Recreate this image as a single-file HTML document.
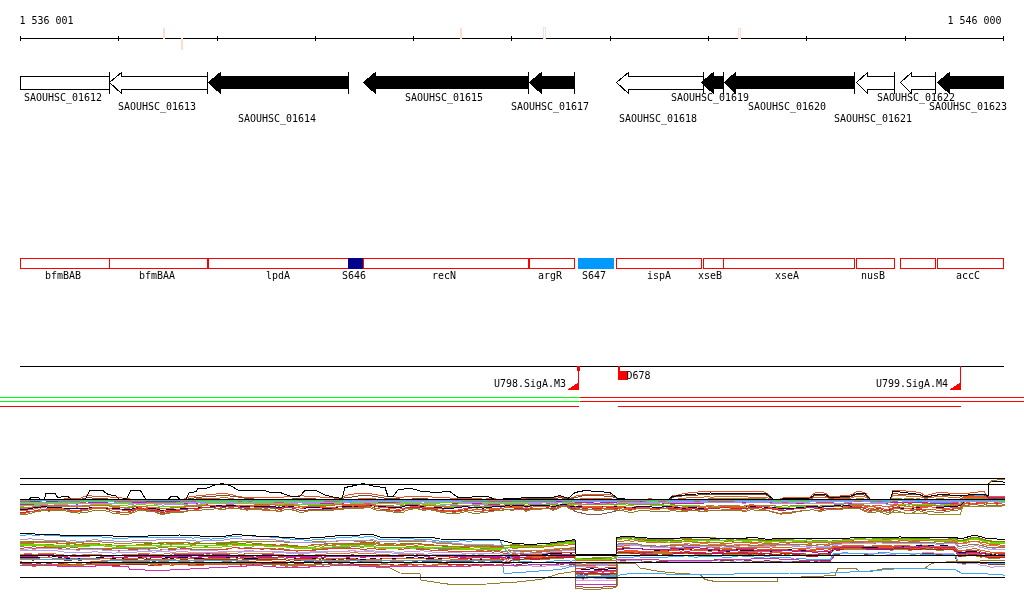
<!DOCTYPE html>
<html lang="en"><head><meta charset="utf-8"><title>Genome browser 1 536 001 - 1 546 000</title>
<style>html,body{margin:0;padding:0;background:#fff;overflow:hidden}svg{display:block}text{font-family:"DejaVu Sans Mono","Liberation Mono",monospace;font-size:11px;fill:#000}</style>
</head><body>
<svg width="1024" height="611" viewBox="0 0 1024 611" shape-rendering="crispEdges">
<rect x="0" y="0" width="1024" height="611" fill="#fff"/>
<g id="axis">
<rect x="20" y="38" width="984" height="1" fill="#000"/>
<rect x="20" y="36" width="1" height="5" fill="#000"/>
<rect x="118" y="36" width="1" height="5" fill="#000"/>
<rect x="217" y="36" width="1" height="5" fill="#000"/>
<rect x="315" y="36" width="1" height="5" fill="#000"/>
<rect x="413" y="36" width="1" height="5" fill="#000"/>
<rect x="511" y="36" width="1" height="5" fill="#000"/>
<rect x="610" y="36" width="1" height="5" fill="#000"/>
<rect x="708" y="36" width="1" height="5" fill="#000"/>
<rect x="806" y="36" width="1" height="5" fill="#000"/>
<rect x="905" y="36" width="1" height="5" fill="#000"/>
<rect x="1003" y="36" width="1" height="5" fill="#000"/>
<rect x="163" y="28" width="2" height="11" fill="#FFDCCC"/>
<rect x="181" y="38" width="2" height="12" fill="#FFDCCC"/>
<rect x="460" y="28" width="2" height="11" fill="#FFDCCC"/>
<rect x="543" y="27" width="3" height="12" fill="#fff"/>
<rect x="543.5" y="27.5" width="2" height="11" fill="none" stroke="#FFDCCC" stroke-width="1"/>
<rect x="738" y="28" width="3" height="11" fill="#fff"/>
<rect x="738.5" y="28.5" width="2" height="10" fill="none" stroke="#FFDCCC" stroke-width="1"/>
<text x="19.5" y="24" textLength="54" lengthAdjust="spacingAndGlyphs">1 536 001</text>
<text x="947.5" y="24" textLength="54" lengthAdjust="spacingAndGlyphs">1 546 000</text>
</g>
<g id="genes">
<rect x="20.5" y="76.5" width="89" height="13" fill="#fff" stroke="#000" stroke-width="1"/>
<rect x="109" y="72" width="1" height="22" fill="#000"/>
<polygon points="109.5,82.5 121.5,72.5 121.5,76.5 207.5,76.5 207.5,89.5 121.5,89.5 121.5,93.5" fill="#fff" stroke="#000" stroke-width="1"/>
<rect x="207" y="72" width="1" height="22" fill="#000"/>
<polygon points="208.5,82.5 220.5,72.5 220.5,76.5 348.5,76.5 348.5,88.5 220.5,88.5 220.5,93.5" fill="#000" stroke="#000" stroke-width="1"/>
<rect x="348" y="72" width="1" height="22" fill="#000"/>
<polygon points="363.5,82.5 375.5,72.5 375.5,76.5 528.5,76.5 528.5,88.5 375.5,88.5 375.5,93.5" fill="#000" stroke="#000" stroke-width="1"/>
<rect x="528" y="72" width="1" height="22" fill="#000"/>
<polygon points="529.5,82.5 541.5,72.5 541.5,76.5 574.5,76.5 574.5,88.5 541.5,88.5 541.5,93.5" fill="#000" stroke="#000" stroke-width="1"/>
<rect x="574" y="72" width="1" height="22" fill="#000"/>
<polygon points="616.5,82.5 628.5,72.5 628.5,76.5 703.5,76.5 703.5,89.5 628.5,89.5 628.5,93.5" fill="#fff" stroke="#000" stroke-width="1"/>
<rect x="703" y="72" width="1" height="22" fill="#000"/>
<polygon points="701.5,82.5 713.5,72.5 713.5,76.5 723.5,76.5 723.5,88.5 713.5,88.5 713.5,93.5" fill="#000" stroke="#000" stroke-width="1"/>
<rect x="723" y="72" width="1" height="22" fill="#000"/>
<polygon points="724.5,82.5 735.5,72.5 735.5,76.5 854.5,76.5 854.5,88.5 735.5,88.5 735.5,93.5" fill="#000" stroke="#000" stroke-width="1"/>
<rect x="854" y="72" width="1" height="22" fill="#000"/>
<polygon points="856.5,82.5 867.5,72.5 867.5,76.5 894.5,76.5 894.5,89.5 867.5,89.5 867.5,93.5" fill="#fff" stroke="#000" stroke-width="1"/>
<rect x="894" y="72" width="1" height="22" fill="#000"/>
<polygon points="900.5,82.5 911.5,72.5 911.5,76.5 935.5,76.5 935.5,89.5 911.5,89.5 911.5,93.5" fill="#fff" stroke="#000" stroke-width="1"/>
<rect x="935" y="72" width="1" height="22" fill="#000"/>
<polygon points="937.5,82.5 949.5,72.5 949.5,76.5 1003.5,76.5 1003.5,88.5 949.5,88.5 949.5,93.5" fill="#000" stroke="#000" stroke-width="1"/>
<text x="24" y="101" textLength="78" lengthAdjust="spacingAndGlyphs">SAOUHSC_01612</text>
<text x="118" y="110" textLength="78" lengthAdjust="spacingAndGlyphs">SAOUHSC_01613</text>
<text x="238" y="122" textLength="78" lengthAdjust="spacingAndGlyphs">SAOUHSC_01614</text>
<text x="405" y="101" textLength="78" lengthAdjust="spacingAndGlyphs">SAOUHSC_01615</text>
<text x="511" y="110" textLength="78" lengthAdjust="spacingAndGlyphs">SAOUHSC_01617</text>
<text x="619" y="122" textLength="78" lengthAdjust="spacingAndGlyphs">SAOUHSC_01618</text>
<text x="671" y="101" textLength="78" lengthAdjust="spacingAndGlyphs">SAOUHSC_01619</text>
<text x="748" y="110" textLength="78" lengthAdjust="spacingAndGlyphs">SAOUHSC_01620</text>
<text x="834" y="122" textLength="78" lengthAdjust="spacingAndGlyphs">SAOUHSC_01621</text>
<text x="877" y="101" textLength="78" lengthAdjust="spacingAndGlyphs">SAOUHSC_01622</text>
<text x="929" y="110" textLength="78" lengthAdjust="spacingAndGlyphs">SAOUHSC_01623</text>
</g>
<g id="segments">
<rect x="20.5" y="258.5" width="89" height="10" fill="none" stroke="#f00" stroke-width="1"/>
<rect x="109.5" y="258.5" width="98" height="10" fill="none" stroke="#f00" stroke-width="1"/>
<rect x="208.5" y="258.5" width="140" height="10" fill="none" stroke="#f00" stroke-width="1"/>
<rect x="363.5" y="258.5" width="165" height="10" fill="none" stroke="#f00" stroke-width="1"/>
<rect x="529.5" y="258.5" width="45" height="10" fill="none" stroke="#f00" stroke-width="1"/>
<rect x="616.5" y="258.5" width="85" height="10" fill="none" stroke="#f00" stroke-width="1"/>
<rect x="703.5" y="258.5" width="20" height="10" fill="none" stroke="#f00" stroke-width="1"/>
<rect x="723.5" y="258.5" width="131" height="10" fill="none" stroke="#f00" stroke-width="1"/>
<rect x="856.5" y="258.5" width="38" height="10" fill="none" stroke="#f00" stroke-width="1"/>
<rect x="900.5" y="258.5" width="35" height="10" fill="none" stroke="#f00" stroke-width="1"/>
<rect x="937.5" y="258.5" width="66" height="10" fill="none" stroke="#f00" stroke-width="1"/>
<rect x="348" y="258" width="15" height="11" fill="#00008B"/>
<rect x="578" y="258" width="36" height="11" fill="#0099FF"/>
<text x="45" y="279" textLength="36" lengthAdjust="spacingAndGlyphs">bfmBAB</text>
<text x="139" y="279" textLength="36" lengthAdjust="spacingAndGlyphs">bfmBAA</text>
<text x="266" y="279" textLength="24" lengthAdjust="spacingAndGlyphs">lpdA</text>
<text x="342" y="279" textLength="24" lengthAdjust="spacingAndGlyphs">S646</text>
<text x="432" y="279" textLength="24" lengthAdjust="spacingAndGlyphs">recN</text>
<text x="538" y="279" textLength="24" lengthAdjust="spacingAndGlyphs">argR</text>
<text x="582" y="279" textLength="24" lengthAdjust="spacingAndGlyphs">S647</text>
<text x="647" y="279" textLength="24" lengthAdjust="spacingAndGlyphs">ispA</text>
<text x="698" y="279" textLength="24" lengthAdjust="spacingAndGlyphs">xseB</text>
<text x="775" y="279" textLength="24" lengthAdjust="spacingAndGlyphs">xseA</text>
<text x="861" y="279" textLength="24" lengthAdjust="spacingAndGlyphs">nusB</text>
<text x="956" y="279" textLength="24" lengthAdjust="spacingAndGlyphs">accC</text>
</g>
<g id="promoters">
<rect x="20" y="366" width="984" height="1" fill="#000"/>
<rect x="577" y="366" width="3" height="5" fill="#f00"/>
<rect x="578" y="366" width="1" height="24" fill="#f00"/>
<polygon points="567,390 579,390 579,382" fill="#f00"/>
<rect x="618" y="366" width="2" height="5" fill="#f00"/>
<rect x="618" y="371" width="10" height="9" fill="#f00"/>
<rect x="960" y="366" width="1" height="24" fill="#f00"/>
<polygon points="949,390 961,390 961,382" fill="#f00"/>
<text x="494" y="387" textLength="72" lengthAdjust="spacingAndGlyphs">U798.SigA.M3</text>
<text x="626.5" y="379" textLength="24" lengthAdjust="spacingAndGlyphs">D678</text>
<text x="876" y="387" textLength="72" lengthAdjust="spacingAndGlyphs">U799.SigA.M4</text>
<rect x="0" y="397" width="580" height="1" fill="#0f0"/>
<rect x="580" y="397" width="444" height="1" fill="#f00"/>
<rect x="0" y="401" width="580" height="1" fill="#0f0"/>
<rect x="580" y="401" width="444" height="1" fill="#f00"/>
<rect x="0" y="406" width="579" height="1" fill="#f00"/>
<rect x="618" y="406" width="343" height="1" fill="#f00"/>
</g>
<g id="expression">
<polyline points="20,561.5 22,562 26,562 28,562 30,562.5 32,562.5 34,562.5 36,562.5 38,562.5 40,562 44,562.5 46,562.5 48,562.5 52,562.5 54,562.5 56,562.5 58,563 62,563.5 64,563 68,563 72,562.5 76,563 78,563 80,563.5 84,562.5 88,562 90,562 94,561.5 96,561.5 98,561.5 102,561.5 106,561.5 108,562 110,562 114,562 116,562.5 120,562.5 122,562 124,561.5 126,562 130,561.5 132,562 136,561.5 138,561.5 142,561.5 144,561.5 148,561.5 150,562 152,562.5 154,562.5 156,562.5 158,562 162,561.5 166,561.5 168,561.5 170,562.5 172,562.5 176,562.5 178,562 182,561.5 184,561.5 186,561.5 190,562 192,562 194,562 196,561.5 200,561.5 202,561.5 204,561 206,560.5 208,560.5 210,560.5 212,560.5 214,560.5 218,560.5 220,560.5 222,561 226,561.5 228,561 232,561 234,560.5 236,561 240,561.5 242,561.5 244,561.5 246,561 250,561 252,561 256,561 260,560.5 262,560.5 266,560.5 268,560.5 272,561 274,561 276,561 280,561 284,561.5 286,562 288,562.5 292,562.5 296,562.5 300,562 302,562.5 304,562.5 308,563 312,562.5 314,562.5 316,561.5 318,561.5 322,562 324,562 326,561.5 330,561 332,561.5 336,561.5 340,561.5 344,561 348,561.5 350,561 354,560.5 356,560.5 358,561.5 360,561.5 362,561.5 366,561.5 370,561 374,561 376,561.5 378,561.5 382,561 384,560.5 386,560.5 390,561 392,561.5 394,561.5 398,561.5 400,561.5 402,561.5 406,560.5 408,560.5 410,560.5 414,561.5 416,561.5 418,561 420,560.5 422,560.5 424,561.5 428,562 430,562.5 432,562.5 436,562 440,561 442,561 444,560.5 446,561 448,561 450,561 454,561.5 458,561.5 460,561.5 462,561.5 464,561.5 466,561.5 470,562 472,561.5 474,561 476,560.5 480,561.5 482,562 484,561.5 486,560.5 490,561 492,561 496,561 500,561.5 504,560 506,559.5 510,557.5 512,557 514,557 518,557.5 520,557 522,557 524,557 526,557 530,557 532,557 534,557.5 538,557.5 540,557.5 542,557.5 544,557 546,557 548,557 552,556.5 554,556.5 556,556 558,556 562,556 566,555.5 570,556 572,556 574,556 575,555.5 576,573.5 578,573 580,573 584,574 586,573.5 590,572.5 592,572.5 596,572.5 598,573 602,573.5 604,573.5 608,573 610,573 612,572.5 614,573 616,573 617,552 618,552 620,552 622,552 626,551.5 628,551 632,551.5 634,551 636,551.5 638,551.5 642,552 644,552.5 646,552.5 648,552.5 652,552.5 654,552.5 656,552.5 660,552.5 662,552 666,553 670,552.5 672,552.5 674,552.5 676,552.5 680,552.5 682,552.5 686,551.5 690,552.5 692,552.5 696,553 698,552.5 702,552.5 704,552.5 708,553.5 712,553.5 716,553 720,553.5 722,553.5 724,554 726,554 730,554 732,554 736,553.5 738,553 740,553 744,553 746,552.5 750,552.5 752,552.5 754,552 756,552 758,552 760,551.5 764,552 766,551.5 768,551.5 770,552 772,552 774,552.5 776,552.5 780,552.5 782,552.5 784,553 788,552.5 792,553 794,553.5 796,554 798,553.5 802,553.5 804,553.5 806,554 810,554.5 814,555 818,554.5 820,554 822,553.5 824,553.5 826,553.5 828,553.5 830,553.5 832,551 834,548 836,548.5 840,548 842,548.5 844,548 846,548 848,548 850,548.5 854,548 856,548 858,548.5 860,548.5 862,548.5 866,548.5 868,548.5 870,548 872,548 876,547.5 878,548 880,547.5 884,548.5 888,548.5 890,549 892,548.5 893,548.5 894,548.5 896,548 900,548 904,548 908,548 910,548.5 914,548.5 918,548 920,548 922,548.5 924,548.5 926,548.5 930,548.5 932,549 936,550 940,550 944,549.5 948,549.5 950,549.5 952,549.5 956,552 958,556 960,556.5 962,556.5 964,556 965,555.5 966,555 970,554.5 974,554 976,554 978,554.5 982,555.5 984,555.5 986,556 988,556.5 990,556.5 994,556.5 996,557 998,556.5 1002,556.5 1003,556.5 1005,556.5" fill="none" stroke="#E06020" stroke-width="1"/>
<polyline points="20,557.5 22,557.5 24,557.5 26,557.5 28,557.5 32,558 36,557.5 40,557 44,557 48,557 50,557 52,557 54,556.5 58,557 60,557.5 62,558 64,558 66,558 68,558.5 70,558.5 74,558 76,558.5 78,558.5 82,558.5 84,558.5 88,558.5 92,558 94,558 96,558 98,557.5 102,557.5 104,558 108,558 110,558.5 112,558.5 116,559 118,559 122,559 124,558.5 126,558 128,558.5 132,558.5 136,558.5 138,558 140,557.5 142,557.5 146,558 148,558 150,558.5 152,559.5 156,559 158,559 162,559 164,558.5 166,557.5 170,558 172,558.5 174,558 178,557.5 180,557.5 184,557.5 188,558 192,559 196,558.5 198,559 200,558.5 202,558.5 206,558 208,558 212,558 214,557.5 216,557.5 218,558 222,558.5 224,558 226,558 230,557.5 232,557 234,557 236,557.5 240,558.5 244,558.5 248,558 250,558 252,558 254,558 258,558 262,558 266,558 268,558 270,558 274,558 276,558 278,557.5 280,557.5 284,558 286,558.5 288,559 290,559 294,559 298,558.5 300,558.5 302,558.5 304,558.5 306,559.5 308,559.5 310,559.5 312,559 314,558.5 318,558 322,558.5 324,559 328,559 330,558.5 332,559 336,559 340,558.5 344,558.5 346,558.5 348,559 352,558 354,558 356,558.5 358,559 360,559.5 362,559.5 366,559.5 370,559 372,558.5 376,559 378,559.5 380,559 384,558.5 386,558 390,558 394,558.5 396,558.5 398,559 402,558 404,558 406,558 410,557.5 414,558 418,558 422,557.5 426,558.5 430,558.5 434,559 436,559 438,559 442,558.5 444,558 446,558.5 450,559 454,559.5 458,559 460,559.5 462,559.5 464,559.5 468,560 470,560 474,559.5 478,559.5 480,560 484,559.5 488,559.5 490,559.5 492,560 496,560 498,559.5 500,560 502,559.5 506,558.5 510,557 512,556.5 514,556 516,556 518,555.5 522,555.5 524,555 528,555 532,555.5 534,555 536,555 540,555 542,555 546,554.5 548,554 552,553.5 554,553.5 558,553 560,553 562,553 564,552.5 566,552.5 568,552.5 570,553 572,553 575,552.5 576,569 578,568.5 580,568.5 582,569.5 586,569.5 590,569 592,568.5 594,569 598,569 600,569 602,569 604,569 608,569 612,568.5 616,568.5 617,548.5 618,549 620,549.5 622,549 626,548 628,548 632,548.5 636,548 640,548.5 642,548.5 644,549.5 646,549.5 648,549.5 652,549.5 654,550 658,550.5 660,550.5 662,550 664,550 666,550.5 668,550.5 670,550 672,550 674,550 676,550 678,550 680,549.5 682,550 684,549.5 688,549 692,550 694,550 698,549.5 702,549.5 704,549.5 708,550.5 712,550.5 716,550.5 718,550.5 722,551 726,551.5 728,551.5 730,551 734,550.5 738,549.5 740,550 742,550 744,550 746,550 750,550.5 752,550.5 754,550.5 758,550.5 762,551 764,551 768,551 772,551 776,550.5 780,550 784,550 788,549.5 792,550 794,550 798,550.5 800,550 804,550.5 806,551 810,551.5 812,552 814,552 816,551.5 818,551.5 820,551 822,551 824,551 826,551.5 828,552 830,552 832,550.5 834,548.5 836,549 838,548.5 842,548 844,548 846,547.5 850,547.5 854,547.5 856,547.5 858,547.5 862,547 864,547 868,547.5 872,547.5 874,547.5 878,547 882,546.5 886,547 888,546.5 892,547 893,547 894,547 896,546.5 900,546 902,546 906,546 910,546 912,546 916,546 918,545.5 920,545.5 922,545.5 926,545.5 928,545 930,545 932,545 934,546 938,546.5 940,546 944,545.5 946,545.5 948,546 950,546 952,546 956,548 958,552 960,552.5 964,552.5 965,552 966,552 968,551.5 970,551 972,551.5 976,551.5 980,553 982,553.5 986,553.5 988,553.5 990,554 992,554 994,554 996,554 998,553.5 1000,553.5 1003,553 1005,553" fill="none" stroke="#000060" stroke-width="1"/>
<polyline points="20,554.5 22,554.5 24,554 28,554 30,554 32,554.5 34,554.5 36,554.5 40,554 44,554.5 46,554.5 48,554.5 50,554.5 54,555 56,555 58,555 60,555.5 64,555.5 68,556 72,555.5 74,555.5 76,555.5 78,556 82,556 84,556 88,556 90,555.5 94,555.5 96,555 100,555 104,555 106,555 108,555 112,555.5 114,555 118,555.5 120,555.5 122,555 126,554.5 128,554.5 130,554.5 132,554.5 134,554.5 136,554.5 138,554 140,554.5 142,554.5 144,554.5 148,554.5 152,556 156,556 158,555.5 162,555.5 164,555 168,555 170,555.5 174,555 178,554.5 180,554.5 182,554 184,554 186,554.5 188,554.5 192,555 194,554.5 196,554.5 198,554.5 200,554.5 204,554 206,553.5 208,553.5 212,554 214,554 216,554 218,554 220,554 222,554 226,555 228,554.5 232,553.5 236,553.5 238,554 240,554 242,554 244,554 246,553.5 248,553.5 250,553.5 252,553.5 254,553.5 258,553.5 260,553.5 262,554 266,554 268,554.5 272,554.5 276,555.5 278,555.5 280,555.5 284,556 286,556 288,556.5 292,556.5 296,557 298,556.5 300,556.5 302,556.5 304,556.5 308,557 312,556.5 316,556.5 320,555.5 324,556 326,556 328,555.5 332,556 336,555.5 338,556 340,555.5 344,555.5 346,556 348,555.5 350,555.5 352,554.5 354,555 356,555 358,555.5 362,556 366,555.5 370,555.5 374,555.5 378,556.5 382,555 386,555 388,555 392,556 394,556 398,556 400,555.5 402,555.5 406,555.5 410,554.5 412,555 414,555 416,555 420,554.5 422,554.5 424,555 428,555 430,555.5 432,555.5 436,555 438,555.5 440,555.5 442,555.5 444,555.5 446,556 448,556 450,557 452,557 454,556.5 456,556.5 458,556.5 460,557 462,557 466,557.5 470,557.5 472,557.5 476,556.5 478,556.5 482,557.5 484,557 486,556 490,556.5 492,556.5 494,556.5 496,556.5 498,556.5 500,556.5 502,557 504,557.5 506,557 508,556.5 512,556.5 514,557 516,557.5 518,557 520,557.5 524,557 526,557 530,558 532,558 534,558 538,558.5 540,559 542,558.5 544,558.5 546,558.5 550,559 552,558 554,557.5 558,557.5 562,557 564,557 566,556.5 568,556.5 572,557 575,556.5 576,574.5 580,574 584,575.5 586,575 590,574 594,573.5 598,573.5 600,574 604,574 608,573.5 612,573.5 614,573.5 616,573.5 617,552.5 618,552.5 620,553 624,552.5 626,552.5 628,552 632,552.5 634,552 636,552 640,552 644,553 648,552.5 650,552.5 652,552.5 654,553.5 658,553.5 660,553 662,553 664,553.5 666,553.5 668,553.5 672,553 676,553 678,553 680,552.5 682,552.5 684,552.5 686,551.5 688,551.5 690,552 692,552 696,552.5 698,552.5 702,552.5 706,553 710,553 712,553 714,552.5 718,552 720,552.5 722,552.5 724,553 726,553 730,554 734,553.5 736,553 740,552.5 742,552.5 744,552.5 748,553 750,553 752,553 754,553 756,553 760,553.5 764,553.5 766,553.5 768,553.5 770,554 772,554 774,554 776,554 780,554 784,553.5 786,553 788,553 792,553.5 796,553.5 798,553.5 800,553.5 804,554 806,554 808,555 812,555 816,555 818,554.5 820,554 824,554 828,554 832,552 834,549.5 836,549.5 840,548.5 842,548.5 844,548.5 846,548 848,549 850,549 852,549 854,549 858,548 862,548.5 864,548.5 868,549.5 872,549 874,549 876,548.5 880,548 882,548 886,548 888,549 890,549 893,549 894,549 896,548.5 900,548 902,548 904,547.5 906,548 908,548 912,548.5 914,548.5 918,548 920,547.5 922,547.5 924,547.5 926,547.5 930,547.5 932,547.5 934,548 936,548.5 938,549 942,548 946,548 950,547.5 952,548 954,548 958,554.5 960,555 964,554.5 965,554 966,554 968,553.5 970,553.5 972,553 976,553 978,553.5 980,555 982,555 984,555 986,555.5 988,555.5 990,556 992,556 996,556 998,556 1002,556 1003,556 1005,556" fill="none" stroke="#C71585" stroke-width="1"/>
<polyline points="20,554 24,554 28,553.5 32,554 36,554 38,554 40,553 42,553 46,553.5 48,553.5 52,553.5 56,554 58,554.5 60,554.5 62,554.5 64,555 68,555.5 72,555 74,554.5 76,555 78,555 80,555.5 84,554.5 88,554.5 90,554 92,554.5 96,554.5 98,554.5 102,555 104,555 106,555 110,555 114,556 116,555.5 118,555 120,555 122,555 124,554.5 126,554.5 130,554.5 132,555 134,554.5 138,554 140,553.5 144,553.5 148,553.5 150,554 154,554.5 156,554.5 158,555 160,554.5 164,554 166,553.5 170,554 172,554 176,553.5 180,553 182,553 186,553 190,553.5 192,553.5 194,553.5 196,553.5 200,553.5 202,553.5 204,553.5 206,554 208,554 210,554 214,553.5 216,553.5 220,553.5 222,553.5 226,554 230,553 232,553.5 236,553.5 240,554.5 242,554.5 244,554.5 246,553.5 250,553.5 254,554 258,553.5 260,553.5 264,553.5 268,553.5 272,553.5 274,554 276,554 278,554.5 282,554.5 286,555.5 290,555 294,555.5 296,555.5 298,555 302,554.5 304,555 308,556 310,555.5 312,555.5 314,555.5 316,554.5 320,554 322,554.5 324,554.5 326,554 330,553.5 334,553.5 336,553 338,553 340,553 344,553 346,553 350,553 352,552.5 354,552.5 358,553 360,553.5 362,553.5 366,553.5 370,553 374,553.5 376,554 378,554.5 380,555 382,554 384,554 386,554 388,554.5 392,555.5 394,555.5 396,555.5 398,555 402,554.5 404,554 408,554 410,554 412,554.5 416,555.5 418,555 422,554.5 424,554.5 428,555 430,555 432,555.5 434,555.5 436,555.5 440,555.5 444,555 448,555.5 452,556.5 454,556 456,556 460,556.5 464,556.5 466,557 468,557 470,557 474,557 476,556 478,557 480,557.5 484,557 486,556.5 490,557 494,557.5 496,557.5 500,557.5 504,555.5 508,553 510,551.5 512,550.5 516,550 518,550 520,550 522,550 524,550 526,550.5 530,550.5 532,550.5 536,550.5 540,550.5 542,550 544,550 548,549.5 550,549.5 552,549 554,549 556,548.5 558,548.5 562,548.5 566,548 570,548 574,547.5 575,547.5 576,564 578,563.5 580,564 584,564 586,564 588,563.5 590,564 592,563.5 596,563.5 600,564 604,564.5 606,564 608,564 610,564 612,564.5 614,564 616,564 617,545 618,545 622,544.5 624,544.5 628,544.5 630,544 632,544.5 636,544.5 638,544.5 640,544.5 644,545.5 646,545.5 650,545.5 654,545.5 656,546 660,546 664,545.5 668,545.5 672,544.5 674,544.5 678,544.5 682,544.5 686,543.5 688,543.5 690,544 694,544 698,544 700,544 702,543.5 706,543.5 710,544.5 712,544.5 714,544.5 718,544 720,544 722,544.5 726,545 730,545.5 732,545 734,545 738,544.5 740,544 742,544 744,544 746,544.5 750,544 754,543.5 758,544 762,544.5 766,544.5 768,544.5 770,545 774,544.5 776,544.5 780,544.5 784,544.5 786,544.5 788,544.5 790,544.5 792,544.5 796,544.5 798,544 800,544 802,544.5 804,544.5 806,545 808,545 810,544.5 812,545 816,545 818,545 822,544.5 824,544.5 826,544.5 830,544.5 832,543.5 834,543 836,543 838,543 842,542.5 844,542 846,542 850,542 854,542.5 856,542 860,542 864,542 866,542 870,542.5 874,542.5 878,542.5 880,542 884,541.5 888,541.5 890,541.5 892,541.5 893,542 896,541.5 898,541.5 900,542 904,542 908,542 910,541.5 912,541.5 914,541 916,541 920,541 922,540.5 924,540.5 926,540.5 930,540.5 934,540.5 936,541.5 940,541.5 942,541.5 944,541 948,541 952,541 954,541 956,541.5 958,543.5 960,544 964,543.5 965,543.5 966,543.5 970,542 972,541.5 974,541.5 976,541.5 978,542 980,543 982,544 984,544.5 988,545.5 992,546 994,545.5 998,546 1000,546 1003,546 1005,546" fill="none" stroke="#E8733A" stroke-width="1"/>
<polyline points="20,559 24,559.5 26,559.5 30,559.5 32,560 34,560 38,559.5 40,559 44,559 48,559 52,559 54,559 56,559 58,559 62,559.5 64,560 66,560 68,560 70,560.5 74,559.5 78,560 82,560 84,559.5 86,559 90,559 94,558.5 96,558.5 100,559 102,558.5 104,558.5 106,558.5 108,558.5 112,559 114,559.5 116,560 118,560 120,560 124,559 126,559 128,559 130,559.5 132,559.5 134,560 138,559 140,558.5 142,558.5 144,559 148,559.5 150,560 152,561 156,561 158,560.5 160,560 164,559.5 166,558.5 170,559.5 174,559.5 176,559 178,558.5 180,559 184,559 186,559.5 188,560 192,560.5 194,560 196,560 198,559.5 200,560 202,559.5 206,559.5 208,559.5 210,559 214,559 218,559 220,559 222,559 224,559.5 226,559.5 228,559.5 230,560 232,559.5 234,559.5 238,560 242,560 246,559 250,559 252,559.5 256,559.5 258,559.5 260,559 264,559 268,559.5 272,559.5 274,559.5 276,559.5 280,559 284,559.5 286,560 288,560.5 290,561 292,561 294,561 298,560 302,560.5 304,561 308,561.5 310,561 312,561 314,561 318,560.5 320,559.5 322,560.5 326,560 330,559.5 332,560 334,560.5 338,560 342,559.5 344,560 346,560 350,560 354,559.5 358,560.5 360,561 362,561 366,560.5 370,560 372,560 374,560 376,560.5 378,561 380,560.5 382,560.5 386,560.5 390,561 392,560.5 394,560.5 398,561 402,560.5 404,560.5 406,560.5 408,560 412,560.5 416,561.5 420,560.5 424,561.5 428,562 430,561.5 432,561.5 434,561.5 436,561.5 440,560.5 444,560 446,560.5 450,561 452,561.5 454,561.5 456,561.5 460,561 464,561 466,561 468,561 470,561 472,561 474,560.5 476,560.5 478,560.5 482,561 484,560 488,560 490,560.5 492,561 494,561 496,561 500,561 504,562.5 508,563.5 510,563.5 512,564 514,565 516,565 520,564.5 522,564 524,563.5 528,564 532,564.5 536,564.5 538,564.5 540,565 542,565 544,564.5 546,564.5 548,564.5 550,564.5 552,564 554,564 556,564 558,563.5 560,564 562,564 564,564 568,563.5 572,565 575,564 576,578 578,578 582,578.5 584,578.5 586,578 588,577 590,576.5 592,576.5 594,577 596,577.5 600,578 602,578 606,578 608,578 612,578.5 616,578 617,560 618,560.5 622,561 624,560.5 626,560.5 630,560.5 634,560.5 636,560.5 638,560.5 640,560.5 642,561 644,561.5 646,561.5 648,561.5 650,561.5 652,562 654,562 656,562 658,561.5 662,561 664,561.5 666,561.5 670,561.5 672,561 674,560 678,560.5 680,560.5 682,561 684,560.5 686,560 688,560 692,560 696,561 698,561 702,560.5 704,561 706,561 710,561 714,560 716,559.5 720,560 722,560.5 724,561 726,560.5 730,560.5 732,560.5 734,560 738,559.5 740,559.5 744,560 748,560.5 750,560.5 752,561 754,561 756,561 760,561 762,561 764,561 766,560.5 770,561 772,561 774,561 776,561 780,561.5 784,561 786,561 790,561 792,561.5 794,561.5 796,562 800,561 804,561 806,561.5 810,562 814,562 818,561 820,561 822,560.5 826,560.5 828,560.5 830,561 832,558 834,554 838,554 840,554 844,553.5 846,553 848,553 850,553 854,553 858,553 860,553.5 864,554 866,554 870,554 872,554 874,553.5 878,553 880,552 882,552.5 884,552.5 888,552.5 892,553.5 893,553.5 894,553.5 896,553.5 900,553.5 904,553 906,553 910,554 912,554 916,554 920,553.5 922,553.5 926,553.5 930,553.5 934,554 938,554.5 940,554 942,554 944,554 948,554 950,554 954,554 958,563 960,563 964,563 965,563 966,563 970,562.5 974,562.5 976,562 978,562.5 982,563.5 984,563 988,564 992,564.5 996,564 1000,564 1002,564 1003,564.5 1005,564.5" fill="none" stroke="#804030" stroke-width="1"/>
<polyline points="20,556 22,556 26,556 30,556 34,556.5 38,556 42,555.5 46,556 50,555.5 52,555.5 54,555.5 56,556 60,556.5 64,557 68,557 70,557 72,556.5 74,556.5 78,557 82,556.5 84,556.5 86,556.5 88,556 90,556 94,555.5 98,555.5 100,556 102,556.5 104,556.5 106,556.5 110,556.5 112,557 116,557.5 120,557.5 124,557 126,556.5 130,556.5 132,556.5 134,557 136,556.5 138,556 140,556 142,556 144,556 148,556 152,557 156,557 160,556.5 162,556.5 166,556.5 168,556.5 172,557.5 176,557 178,557 180,556.5 182,556 184,556 186,556.5 188,556.5 192,557.5 196,557 198,557 200,556.5 204,556 206,556 208,556 210,556 214,556 218,556 220,556 224,556.5 226,556.5 228,556.5 232,556 234,556 236,556.5 238,556.5 240,557 242,557 244,557 246,556.5 250,556.5 254,557 256,557 258,557 262,557 264,557 266,557 268,557 272,557 276,557.5 278,557.5 282,557.5 286,558.5 288,559 290,559.5 294,559.5 296,559.5 298,559 300,558.5 304,558.5 306,558 308,558.5 312,558 316,557.5 320,556.5 324,557.5 326,557 328,556.5 332,556.5 336,556.5 338,556.5 340,556.5 342,556.5 346,557 348,557.5 352,556.5 356,556.5 360,557 364,557 366,557 368,556.5 370,556.5 374,556 376,556.5 380,556.5 384,556 386,556 390,556 392,556.5 394,556.5 396,556.5 400,556.5 404,556 408,555.5 410,555.5 414,556 416,556.5 420,555.5 422,555.5 426,556.5 428,557 432,557 434,557 436,557 438,556.5 440,556.5 442,556.5 444,556 448,556.5 450,557.5 454,557.5 458,558 460,558 462,558 466,558 468,558 470,558.5 472,558 476,557 478,557.5 480,558 482,558 486,557.5 490,558 494,558.5 496,558.5 498,558.5 500,559 504,559 506,558.5 510,558.5 514,558 518,558 520,558 522,557.5 524,557 528,557.5 530,557.5 532,558 534,558.5 536,558.5 540,558.5 544,557.5 548,557.5 552,557.5 556,557 560,556.5 564,556.5 568,555.5 570,556 574,556 575,555.5 576,573.5 578,573 580,573 584,574 586,573.5 590,573 592,572.5 596,573 598,573 600,573.5 602,573.5 604,573.5 606,573.5 608,573 612,573 616,573 617,552.5 618,552.5 620,553 624,552.5 628,552.5 632,552.5 636,552 638,552 640,552.5 642,553 644,553.5 646,553.5 650,553.5 654,554 656,554 660,553.5 664,553 668,553.5 672,553 674,552.5 676,552.5 680,553 682,553 686,552.5 688,552.5 690,552.5 694,553 696,553 698,553 702,553.5 704,554 708,554 710,554 714,553.5 718,553.5 722,554 724,554.5 726,555 728,554.5 732,554.5 734,554 736,553.5 740,553 744,553 746,553.5 748,553.5 752,553.5 756,554 760,554.5 764,555 766,553.5 768,553.5 770,554.5 774,554 776,554 778,554 782,554 786,553.5 788,553.5 792,554 794,554.5 798,554.5 800,554 802,554 804,554.5 806,554.5 808,554.5 810,554.5 812,555 814,555 818,554 822,553.5 824,553.5 828,554 830,554 832,552 834,549.5 836,550 840,550 842,549.5 846,549.5 848,549.5 852,549.5 854,549.5 858,549 860,549 864,549.5 866,549.5 870,549.5 874,550 878,549.5 880,549 882,549 884,549.5 888,549 890,549.5 893,549.5 894,549.5 896,549 900,549 902,549 904,549 906,548.5 910,549.5 912,549.5 916,549 918,548.5 920,548.5 922,548 924,547.5 928,547 930,547.5 934,548 936,548.5 940,548.5 942,548.5 946,548 948,548 950,548 952,548 954,548 956,550.5 958,554.5 960,555 962,554 964,553.5 965,553.5 968,553 970,552.5 972,552.5 974,552.5 976,552.5 978,552.5 982,554 984,553.5 988,555 990,555 994,555 998,555 1000,554.5 1002,555 1003,555 1005,555" fill="none" stroke="#CC2244" stroke-width="1"/>
<polyline points="20,541.5 22,541.5 26,541 28,541 32,541 36,541.5 38,541.5 40,541.5 42,541 46,541.5 50,541.5 54,541.5 56,541.5 58,541.5 62,541.5 64,541.5 66,542 68,542.5 70,542.5 72,542 76,542.5 78,542 80,542 82,542 84,542 88,541.5 90,541.5 94,541.5 96,541.5 98,541.5 102,542 106,542 110,542.5 114,543 116,543 118,543 122,543 124,543 126,543 128,543 132,543 136,542.5 140,542.5 144,542.5 148,542.5 150,542.5 152,543 156,543 158,543 162,542.5 164,542.5 166,542.5 168,542.5 170,543 174,542.5 178,542 180,542 182,542 184,542 186,542.5 188,542.5 190,543 194,543 196,542.5 200,543 202,543 204,543 206,543 208,543 210,543 214,543 216,543 218,542.5 220,543 224,542.5 228,542 230,542 232,541.5 236,541 240,541 244,541.5 246,541.5 248,541.5 252,541.5 254,541.5 256,541.5 260,541.5 264,541.5 266,541.5 268,541 272,541.5 274,541.5 276,541.5 280,541.5 284,542 286,542 288,542.5 290,542 292,542.5 296,542.5 298,542.5 300,542.5 304,542.5 306,542.5 308,542.5 310,542 312,542 314,541.5 318,541 320,541 322,541 326,541 328,541 330,541.5 332,541.5 334,541.5 338,541 340,540.5 342,540.5 346,540.5 350,540.5 354,541 356,541 360,541 364,541 366,541 368,540.5 372,540.5 376,542 378,542.5 380,542 384,541.5 386,541 390,541.5 392,541.5 394,541.5 396,541 398,541 402,541.5 404,541.5 408,541 410,541 412,541 416,541.5 418,541.5 420,541 422,541 426,541.5 430,541.5 432,542 434,542.5 438,543.5 442,543.5 446,543.5 450,543.5 452,544 456,544.5 460,544.5 462,544.5 464,545 466,545 468,545 470,545.5 472,545.5 474,545.5 478,545.5 480,546 484,545.5 488,545.5 492,546 494,545.5 498,545.5 502,546 506,545.5 510,545 514,544.5 518,544.5 520,545 524,545 526,545 530,545.5 532,545 534,545 536,545 540,545 542,545 546,545 550,544 554,543.5 556,543.5 560,543 564,542 568,541.5 572,541.5 574,541.5 575,541.5 576,558.5 578,558 580,558 582,558.5 584,559 588,558.5 592,558.5 596,558 598,558 600,558 602,558.5 604,559 606,558.5 608,558 612,558 614,558 616,557.5 617,538.5 618,538.5 622,538 624,537.5 626,537.5 628,537.5 632,537.5 636,537.5 638,537.5 642,538.5 646,539 648,539 652,539.5 656,540 658,540 662,540 664,539.5 666,539 668,539 672,539 674,538.5 676,539 678,538 682,538 686,538 688,537.5 690,537.5 692,537.5 696,537.5 700,537.5 702,537.5 706,537.5 708,537.5 710,537.5 712,537.5 716,538 718,538.5 720,538.5 722,538.5 726,539 730,539.5 732,539 734,539 738,538.5 742,538 744,538.5 748,539 752,539 754,539 756,539 760,539.5 764,540 766,540 768,540 770,540 774,539.5 776,539 778,539.5 780,539 784,539 786,539 790,539 794,539 796,538.5 800,538.5 802,538.5 806,539 808,539.5 812,540 816,540 818,540 822,540 824,540 826,540.5 828,541 832,541 834,540.5 836,540.5 840,540 842,540.5 846,540 848,540 850,539.5 854,539 858,538.5 860,538.5 864,538.5 866,539 868,539 870,539 872,539 874,539 876,538.5 878,538.5 880,538.5 884,538.5 888,539 890,539 892,539 893,539 894,539 896,539 900,538.5 904,538.5 906,538.5 908,538.5 912,538.5 916,538.5 920,538.5 924,539 926,539 930,539 934,539 936,539.5 940,539.5 942,539 944,539.5 946,539.5 950,539.5 954,539.5 956,540 958,541 962,541 965,540 966,539.5 968,539 972,538 974,537.5 976,537.5 978,537.5 980,538 984,539.5 986,540.5 988,540.5 990,540.5 992,541 994,541.5 996,541.5 998,541.5 1000,541.5 1002,541.5 1003,541.5 1005,541.5" fill="none" stroke="#9B8B2B" stroke-width="1"/>
<polyline points="20,539.5 22,539.5 24,539.5 26,539.5 28,539 30,538.5 34,539.5 36,540 40,539.5 44,540 46,540 50,540 54,540 56,540 60,540.5 64,540.5 66,541 70,541 72,540.5 76,541 78,541.5 82,541 84,541 86,541 88,540.5 90,540 92,540 94,539.5 98,540 102,540 106,540 110,540.5 114,541 118,541.5 122,541.5 124,541 126,541 128,541 132,541 134,540.5 136,540 138,540 140,540.5 144,540 146,540 150,540 152,540 154,540 156,540 160,539.5 162,539.5 166,539.5 168,539.5 172,540 174,539.5 176,539.5 180,539 182,539 186,540 188,540 192,540.5 196,541 198,541 202,541 204,540.5 206,540.5 208,540.5 212,540.5 216,540.5 220,540.5 224,540 228,539.5 232,538.5 234,538 238,538 240,538.5 242,539 246,539 248,539 250,539 252,539 254,539.5 256,539 260,539.5 262,539.5 264,539.5 266,539 268,539.5 270,539.5 272,540 274,539.5 276,540 278,540.5 280,540.5 284,541 286,541.5 290,542 292,542 294,542 296,542.5 298,542.5 300,543 304,542.5 306,542.5 310,542.5 314,542 316,542 318,542 322,542 326,542 328,541.5 330,541.5 332,541.5 334,541.5 336,541 340,540.5 342,541 344,540.5 346,540.5 350,540.5 352,540 354,540 356,540 358,540 362,540.5 366,540 368,540 370,540 372,539.5 374,540 378,541.5 382,541.5 384,542 388,541.5 390,541.5 392,542 394,541.5 396,541.5 400,540.5 404,540.5 406,540.5 408,540.5 412,540.5 414,540.5 418,541 420,540.5 424,540.5 426,541 428,541 430,541 432,541.5 434,541.5 438,542.5 442,543 444,542.5 446,542.5 450,542.5 452,543 454,543 458,543 460,543.5 462,544 464,544 466,544.5 470,544.5 474,544.5 476,544 478,544.5 480,544.5 482,545 486,544.5 488,544.5 492,544.5 494,545 498,545 502,546.5 504,547.5 506,548.5 508,549 510,550 514,551.5 518,551.5 520,552 524,551.5 526,551.5 530,552 534,552 536,552 538,552 540,551.5 542,551.5 546,551 548,550.5 552,550 554,550 558,549.5 560,549 564,548.5 566,548.5 568,548 570,548.5 574,548.5 575,548.5 576,564.5 578,564.5 582,565 584,565 588,564.5 592,564.5 594,564.5 596,564.5 600,564.5 602,564.5 604,564.5 606,564.5 610,564 614,563.5 616,563.5 617,544.5 618,544.5 620,544.5 624,544 628,544 630,544.5 634,544.5 638,545 642,545.5 644,545.5 646,545.5 648,545.5 650,546 652,546 654,546 656,546.5 658,546 660,546 662,545.5 664,546 666,546 668,546 672,545.5 674,545 676,545.5 678,545.5 682,546 686,545 690,545 692,545.5 694,545.5 698,545.5 700,545.5 702,546 704,546 706,546 710,546.5 714,546.5 716,546.5 720,546.5 722,547 724,547 726,546.5 728,546.5 730,546.5 734,546 738,545.5 740,545 742,545.5 746,545.5 750,545.5 754,545 758,545 762,545.5 764,545.5 766,545 768,545.5 770,545.5 774,545 776,545 780,545.5 784,545.5 788,545.5 790,545.5 792,546 794,546 798,546.5 802,546.5 804,546.5 806,547 808,547 810,547.5 814,548 818,547.5 822,547.5 826,547.5 828,547 830,547.5 832,546.5 834,545.5 836,545.5 838,545 840,544 842,543.5 846,543.5 850,543 852,543 856,542.5 860,543 862,543 864,543 868,543.5 870,543.5 872,543.5 876,542.5 878,542.5 880,542 882,542 884,542 886,542 888,542.5 890,542.5 892,543 893,542.5 894,542.5 898,542 900,542.5 904,542.5 908,542.5 910,543 912,543 916,542.5 920,543 922,543 924,542.5 928,542.5 932,542.5 934,542.5 936,543 938,543 940,543 942,543 944,543 948,542.5 952,542.5 954,542.5 956,543.5 958,545.5 960,546.5 962,546 964,545.5 965,545.5 968,545 970,544.5 974,544 976,544 980,545.5 982,546 984,546 986,547 988,547.5 992,548 996,548 998,547.5 1002,547.5 1003,547.5 1005,547.5" fill="none" stroke="#B090E0" stroke-width="1"/>
<polyline points="20,546 24,546 28,545.5 32,546 34,546.5 36,546 40,545.5 44,546 46,546 48,546.5 50,546.5 52,546.5 54,546.5 56,547 60,547.5 64,547.5 66,548 70,548 74,547.5 76,547.5 78,548 80,548.5 82,548.5 84,548.5 88,548 90,548.5 92,548.5 94,548 96,548.5 98,548.5 100,548.5 102,548.5 106,549 110,548.5 112,548.5 114,548.5 118,548.5 122,548 124,548 128,548 132,548.5 136,548.5 140,548 144,548 148,548 152,548.5 154,548.5 156,548.5 158,548 160,547.5 162,548 166,547.5 168,548 170,548.5 172,548.5 176,548.5 178,547.5 180,547.5 182,547.5 186,548 188,548 192,549 194,549 198,549.5 200,549.5 202,549 206,549 208,549 212,549 214,549.5 216,549.5 218,549.5 222,549.5 224,549.5 226,549 228,548.5 232,548 236,547.5 240,548 244,548 246,547.5 250,547.5 252,548 256,548.5 258,548.5 260,548.5 264,548 268,548.5 270,548.5 274,548.5 276,549 278,549 280,548.5 284,549 288,549.5 290,550 294,550 296,550.5 298,550.5 302,550.5 304,550.5 306,550.5 308,550 312,550 314,549 318,549 320,548.5 324,549 326,548.5 328,548 330,547.5 332,547.5 334,547.5 336,547.5 340,547.5 344,547.5 348,547.5 350,547.5 352,546.5 354,546.5 356,547 358,546.5 360,547 364,547 366,546.5 368,547 370,546.5 372,546.5 374,547 376,547.5 380,548 382,548 384,548 386,548 390,548 392,548 394,548 396,548 398,548 400,548 402,547.5 406,548 410,547.5 414,548 416,548.5 418,548 420,548 424,548.5 426,548.5 428,549 432,548.5 434,548.5 438,549 442,549 444,549 446,549.5 450,549.5 452,549.5 456,549.5 458,549.5 462,549.5 464,549.5 466,549.5 470,550 474,549.5 476,550 480,550.5 482,550.5 486,549.5 488,550.5 492,550.5 494,551 498,550.5 500,550.5 502,551.5 504,551.5 506,551 508,551 510,550.5 512,550.5 514,550.5 516,550.5 520,551 522,551 524,551 526,551.5 528,551.5 532,552 536,552 538,551.5 540,551.5 544,551 548,550.5 552,550 554,550 556,549.5 558,549 560,549 564,548.5 566,548.5 568,548 572,548 574,547.5 575,547.5 576,563.5 578,563.5 582,564 586,564 590,563.5 592,563.5 594,563 596,563 600,563.5 604,563.5 606,563 608,563 610,563 614,563 616,563 617,544 618,544 620,543.5 624,543 626,543 628,543 630,543 632,543.5 634,543.5 638,544 640,544 642,545 644,545 646,545 648,545 650,545.5 654,545.5 658,546.5 660,546.5 664,546 666,546 670,545.5 672,545.5 674,545 676,545 680,545 682,545 684,545 686,544.5 688,545 692,545.5 696,545.5 700,545.5 702,545.5 704,545 706,545.5 708,545.5 712,545.5 714,545.5 716,545 718,545.5 720,545.5 722,545.5 726,546 730,546 732,546 734,546 736,546 738,545.5 740,545.5 742,545 744,545.5 748,545.5 752,545 754,545 756,545 760,545.5 764,546 768,546 770,546 772,545 776,545 778,544.5 780,544 784,544 786,544 788,543.5 792,544.5 796,544.5 798,544.5 800,544.5 802,544.5 804,544.5 808,545 812,545 814,545 816,545 818,544.5 820,544.5 822,544.5 824,545 826,545 830,545 832,544.5 834,543.5 838,543.5 840,543.5 842,543 846,543 848,543 850,543 854,542.5 856,542.5 860,542.5 864,543 868,543 870,543 872,543 874,543 876,543 878,542.5 880,542.5 884,542.5 888,542 890,542 893,542 894,542 896,542 898,542 900,542 902,542 906,542.5 908,542.5 910,543 912,542.5 914,542.5 918,542.5 920,542.5 924,542 928,542 930,542 934,542.5 936,543 938,543 942,543 944,543 946,542.5 950,542.5 952,542.5 954,542 956,543.5 958,546 960,546.5 964,545.5 965,545.5 966,545.5 968,545 970,544.5 974,544 976,544 980,545.5 984,546 988,547.5 990,547.5 994,548 998,547.5 1000,547.5 1002,547.5 1003,547.5 1005,547.5" fill="none" stroke="#8B7D50" stroke-width="1"/>
<polyline points="20,548 24,548 28,547.5 32,548 34,548.5 38,547.5 42,547.5 44,547.5 46,547 48,547.5 52,547.5 54,547.5 56,548 58,548 60,548 62,549 66,549 68,549 70,549.5 74,549 76,549.5 80,549 82,549 84,549 86,549 88,549.5 90,549.5 94,549 98,549 100,549 104,549 108,549.5 110,549.5 112,550 116,550.5 120,551 122,550.5 124,550.5 126,550.5 128,550 130,549.5 134,550 136,549.5 140,549.5 142,549.5 144,549.5 148,549.5 150,550 152,550.5 154,550.5 156,550.5 158,550 160,550 162,549.5 164,549.5 166,549.5 168,550 170,549.5 174,549.5 178,549 180,549 184,548.5 188,549 190,549.5 192,550 194,550 196,550 200,550 204,550 206,550 210,550 214,549.5 216,549.5 220,549.5 222,549.5 224,549 228,549 230,548 232,548 236,547.5 238,548 242,548.5 244,549 248,548.5 250,548.5 254,548.5 256,548.5 258,548.5 260,549 262,549 264,549 266,548.5 270,549 272,549 276,549 280,549 282,549 284,550 288,550.5 290,550.5 294,550.5 296,551 298,551 302,550.5 304,550.5 308,551 312,550.5 314,550 316,550 320,549.5 322,550 326,549.5 330,548.5 334,549 338,548.5 340,548.5 344,548.5 346,548.5 350,548.5 354,548 356,548.5 360,549 362,549.5 366,549.5 368,548.5 372,548.5 374,548.5 378,549.5 380,549.5 384,549 386,549 388,548.5 390,548.5 392,548.5 394,548.5 398,549 402,549 404,549 408,548.5 412,548.5 416,549 418,549 422,549 426,549.5 430,550 432,550 436,550 438,550 440,550 444,550.5 446,550.5 448,551 452,551 454,551 456,551 458,551 462,551 466,551.5 468,551.5 470,551.5 474,551 478,551 480,551.5 482,552 484,551.5 488,551.5 490,551.5 492,552 494,552 498,551.5 500,552 504,553.5 508,554 512,554 514,554.5 518,555 520,555 522,554.5 524,554.5 526,555 530,554.5 532,554.5 536,554.5 538,554.5 540,554.5 542,554 544,553.5 548,553 550,552.5 554,552 556,552.5 558,552.5 562,552 564,552 566,552 568,552.5 570,552 572,552 574,552 575,552 576,568.5 580,568 582,568 586,568 590,567.5 594,567.5 598,568 600,568 604,568.5 606,567.5 608,567.5 610,567.5 614,567.5 616,567.5 617,548 618,548 622,548 626,547.5 630,548 632,548 634,548 636,548 640,548.5 644,549.5 648,549.5 652,549 654,549.5 656,549.5 660,550 664,550 668,550 670,549.5 672,549.5 676,549 678,549.5 680,548.5 682,549 684,548.5 686,548 688,548.5 690,548.5 692,548.5 694,549 696,549 700,549 702,549.5 704,549.5 708,549.5 710,549.5 712,549 714,549 716,548.5 718,548.5 720,548.5 724,549.5 728,549.5 730,549.5 732,549.5 734,549 736,549 740,548.5 744,548.5 746,548.5 748,549 752,548.5 756,548.5 758,549.5 760,549.5 762,549.5 766,549.5 770,550 774,549.5 776,549.5 778,549.5 782,549.5 786,549.5 788,550 790,550 792,550 796,550 798,550 802,549.5 806,550 808,550 812,550 816,550 820,549.5 822,549.5 824,550 826,550 828,550 832,548.5 834,547 836,547 838,547 840,547 842,547 844,546.5 846,546.5 848,546.5 852,546.5 854,546.5 858,546.5 860,546.5 864,546.5 868,546.5 870,546 874,546 876,546 878,546 882,546 886,546 888,546 890,546.5 892,546.5 893,546.5 894,546.5 896,546.5 898,546.5 902,546 906,545.5 908,546 910,546 912,546.5 914,546.5 918,546.5 920,546.5 922,546.5 924,546.5 928,546.5 930,546.5 932,546 934,546.5 936,547 938,547.5 940,547.5 944,546.5 946,546.5 948,546.5 950,546.5 954,546 958,551.5 960,551.5 964,550.5 965,551 966,551 970,550 972,550.5 976,550 978,550.5 980,551.5 982,552.5 986,553 988,553.5 992,554 994,554 996,553.5 998,553 1000,553 1002,553 1003,553 1005,553" fill="none" stroke="#E84020" stroke-width="1"/>
<polyline points="20,545.5 24,545 26,545 30,545 32,545 34,545.5 38,545.5 40,545 42,545 44,545.5 46,546 50,546 54,546 56,546 60,546.5 62,546.5 66,546.5 68,546.5 70,546.5 72,546.5 76,546.5 80,546.5 82,546 86,546 90,546 94,545.5 96,545.5 98,545.5 100,545.5 104,546 108,546.5 112,547 116,547.5 118,547.5 120,548 124,547.5 126,547.5 130,547.5 132,547.5 134,548 136,547.5 138,547.5 142,547 144,547 146,547 148,547 150,547.5 152,547.5 154,547.5 156,547 160,546.5 162,546.5 164,546 168,546 172,546.5 176,546 178,546 180,546 184,546 186,546.5 188,546.5 190,546.5 192,547 194,547 196,547 200,547 202,547 204,547 208,547 210,547 212,547 214,547 218,547 220,547 222,547 224,546.5 226,547 228,546.5 232,546 234,545 238,545.5 240,546 242,545.5 246,545.5 248,545.5 252,546 254,546 258,545.5 262,545.5 264,546 266,546.5 270,546.5 274,546.5 276,546.5 278,546.5 282,546.5 286,547 288,547.5 290,547.5 292,547.5 294,548 298,548 302,548 304,548 306,548 308,548.5 312,548.5 316,548 318,548 322,548 326,547.5 328,547 332,547 334,546.5 338,546.5 342,546 344,546 346,546 350,546 352,545.5 354,545.5 356,545 360,546 364,546 368,545.5 372,545.5 374,546 376,547.5 378,548 380,548 382,548 384,548 388,548 390,548 394,548 396,548 400,548 402,548 406,547.5 408,547.5 410,548 414,548 416,548 418,547.5 420,547.5 424,548 426,548 428,548 430,548 434,548.5 438,548.5 440,548.5 444,548 446,548.5 448,548.5 450,548.5 452,549 456,549 460,549 464,549.5 468,549.5 472,549 474,549 476,549.5 480,550 484,549.5 488,549.5 490,549.5 492,550 496,549.5 498,549 500,549 502,549 504,548.5 506,548.5 510,547.5 514,547 518,547 520,546.5 522,546.5 524,547 528,547 532,547 536,547 540,546.5 542,546 544,546 546,546 550,546 554,545.5 556,545 558,544.5 562,544 564,544 566,543.5 568,543.5 572,543 574,543 575,543 576,559.5 578,559.5 582,560 584,560 588,559.5 592,559 596,559 600,559 602,559 606,559 608,558.5 610,558.5 612,558.5 616,558 617,539 618,539.5 620,539.5 622,539 626,538 628,539 632,539 634,539.5 638,540 640,540 642,540.5 646,541 650,541.5 654,542.5 656,542 660,542 664,541.5 666,541.5 668,542 670,542 672,541.5 674,541 676,541 678,541 680,541 684,541.5 688,541 692,541.5 694,541 698,541 702,540.5 706,541 708,541 710,542 712,542.5 714,542 716,542 720,542.5 724,543 728,543.5 730,543 732,543 734,542.5 736,543 738,542 740,542 742,542 746,541.5 748,541.5 752,541 754,540.5 758,540.5 760,541 762,541.5 766,541.5 770,542 772,541.5 774,541.5 776,541.5 780,541 782,541 784,540.5 786,540.5 788,540.5 790,540.5 792,541 794,541.5 796,541.5 798,541.5 800,541.5 802,541.5 804,541.5 806,542 808,542 810,542 814,542.5 818,542 820,542 822,541.5 824,542 828,542.5 830,543 832,542.5 834,541.5 836,541.5 840,541 842,541 844,541 846,541 848,541 850,541 854,541 858,541 862,541 866,541 868,541 870,540.5 872,540.5 876,540 880,540 884,540 886,540 890,540 892,540 893,539.5 894,539.5 896,539.5 900,539 904,539 908,540 910,540 914,540 916,540 918,540 922,539.5 924,539.5 926,539 928,539 932,539 934,539.5 936,540 938,539.5 942,539.5 946,539 948,539 952,539 956,539.5 958,541 960,542 962,541 964,540.5 965,540.5 966,540.5 968,540 970,539.5 974,539 978,539.5 980,540.5 982,541 984,542 986,542.5 988,543 990,543 992,543 996,543 998,543 1002,543 1003,543 1005,543" fill="none" stroke="#7CCD00" stroke-width="1"/>
<polyline points="20,543.5 22,543.5 26,543.5 28,543 30,543.5 34,544 36,544.5 38,544 40,544 42,544 44,544 46,545 48,544.5 50,544.5 52,544.5 54,545 58,545 60,545.5 62,545.5 64,545.5 66,545.5 68,545.5 70,545.5 74,545 76,545.5 80,545.5 82,545.5 86,545 90,545 94,544 98,544 102,544.5 104,544.5 108,545 110,545 114,545 116,545.5 118,545.5 120,545.5 122,545 126,545 130,545 134,545 136,545 140,544.5 144,544.5 146,544.5 150,545.5 154,545.5 158,545 162,545 166,544.5 170,544.5 172,544.5 174,545 176,544.5 180,544 182,544.5 184,544.5 186,544.5 190,545 192,545.5 196,545.5 200,545.5 204,546 208,546 210,545.5 212,545 214,545 216,545 218,544.5 220,545 224,544 226,544 228,543.5 230,543.5 232,543.5 234,543 236,543 240,544 242,544 244,544.5 248,544 252,544.5 254,544.5 256,544.5 258,544.5 262,544.5 264,545 268,545 272,545.5 274,545.5 278,546 280,546 282,546 284,546.5 286,546.5 290,547 292,547 294,547 298,547 302,547 304,547 306,547.5 310,547 314,547 318,546.5 320,545.5 322,546 324,546 326,545.5 328,545 330,545 332,545 334,545 336,545 338,544.5 342,544.5 346,544.5 348,545 352,544.5 356,544.5 360,545 362,544.5 364,544.5 366,544.5 368,544.5 372,544 374,544.5 376,545 378,545.5 380,545.5 382,545.5 384,545 386,545 388,545 390,545.5 394,545.5 398,545.5 402,545.5 404,545.5 406,546 410,546 414,546.5 416,547 420,546 422,546.5 424,547 426,547 428,547.5 430,547 432,547.5 434,548 438,548 442,548 446,548.5 450,548.5 454,548 456,548 460,548 464,548 466,548 470,548 472,548 474,548 478,547.5 480,548 482,548.5 484,548 488,548 490,548 494,548 496,548 498,548.5 500,548.5 504,548 506,547.5 510,547 512,546 514,545.5 516,545.5 518,546 520,545.5 522,545.5 524,545.5 528,546 530,546.5 534,546.5 536,546.5 538,546.5 540,545.5 542,545.5 546,545 550,545 554,544 556,544 560,543.5 562,543 564,542.5 568,541.5 570,541.5 572,541.5 574,541.5 575,542 576,558.5 578,558 582,559 584,558.5 586,558.5 590,558.5 592,558 594,557.5 596,557.5 600,557.5 602,557.5 606,557.5 608,557 612,557 616,556.5 617,537.5 618,537.5 620,537.5 622,537.5 624,537 626,537 628,537 630,537.5 632,537.5 636,538.5 640,539 644,539 648,539.5 650,539.5 654,539.5 656,539.5 658,539.5 660,539.5 664,539.5 666,539.5 670,539.5 672,539 674,539 676,538.5 678,538.5 682,538.5 686,538.5 690,538.5 692,539 694,539 696,539 700,539 702,539.5 706,539.5 710,539.5 712,539.5 714,539.5 716,539.5 720,540 722,540 726,540.5 728,540.5 730,541 732,540.5 734,540.5 738,539.5 742,539 744,539 746,539 748,539.5 750,540 754,539.5 758,540 762,540.5 764,540.5 768,541 772,540.5 776,540 778,540 782,539.5 786,539.5 790,540 792,540 794,540.5 796,540 800,540.5 804,541 806,541 810,541.5 814,541.5 816,541.5 820,541 822,541 824,541 826,541 828,541 832,541 834,540 838,540 842,540 844,539.5 848,540 850,540 854,539.5 856,539.5 858,539.5 862,539 864,539 866,539 868,539 872,539 874,538.5 876,538.5 878,538.5 880,538.5 882,538.5 884,538.5 886,538.5 890,539 892,539 893,539.5 894,539.5 896,539 898,539 900,539.5 904,539.5 908,539.5 912,540 914,540 916,540 920,540 922,540 926,540 928,540 930,540.5 934,541 938,541 942,540 944,540 946,540 948,539.5 950,539.5 952,539 954,539 956,539.5 958,540.5 960,542 962,541.5 964,541 965,540.5 966,540 968,539.5 972,538.5 976,538 978,538.5 982,540 984,540.5 986,541 988,541.5 990,541.5 994,542 996,541.5 1000,541.5 1003,542 1005,542" fill="none" stroke="#8B8B2B" stroke-width="1"/>
<polyline points="20,565 22,565 24,564.5 28,565 30,564.5 34,565 38,564.5 42,564 46,564.5 50,564.5 54,564.5 58,565 60,565 62,565.5 64,565 68,565.5 70,565.5 74,565 78,565 80,565.5 82,565 84,565 88,564 90,564 92,564 94,563.5 98,563.5 100,563.5 104,563.5 106,563.5 110,563.5 114,564 118,564 120,564 122,564.5 124,564 126,563.5 130,563.5 132,563.5 136,563 140,562.5 144,563 148,563.5 152,564.5 156,564.5 158,564 162,563.5 166,562.5 168,563 172,564.5 176,564.5 178,564 180,564 184,563.5 186,564.5 190,564.5 192,565 196,564.5 198,564.5 202,564.5 204,563.5 206,563.5 210,563.5 214,563.5 216,563 218,563 222,563 226,563.5 228,564 230,564 232,563.5 236,563.5 238,564 242,564 244,564.5 246,564 248,564 250,564 254,564.5 256,564.5 260,564.5 264,564 268,564.5 270,564.5 274,564 278,564 280,564 284,565 286,565 290,565.5 294,565.5 298,565 300,565 302,565 304,565 306,565.5 310,565.5 312,565.5 314,565 316,564.5 318,564.5 320,564 322,565 326,564.5 330,564 332,564.5 334,564.5 338,564 342,563.5 344,564.5 346,565 348,565.5 352,564 354,564.5 358,565 362,565.5 366,565.5 368,565 370,564.5 374,564.5 378,565 380,564.5 382,563.5 386,563.5 388,564 390,564.5 392,565 396,565 398,565 400,564.5 404,564 408,563.5 410,563.5 412,564 416,565 420,564 422,564 426,565 430,565 432,565 434,564.5 436,564.5 438,564 440,563.5 444,563 446,564 448,564 450,564.5 454,565 456,564.5 458,564.5 460,564.5 462,564.5 464,564.5 466,564.5 470,565 472,564.5 476,564 478,564 480,565 484,564 488,564 490,564.5 494,565.5 496,565 498,564.5 502,564.5 504,564 506,563 508,562 510,561.5 514,560 516,560 518,560 520,560 524,559.5 528,559.5 530,560 534,559.5 538,559.5 540,559.5 542,559.5 544,559.5 546,559.5 550,559 552,558.5 556,558 560,558 564,558 566,557.5 568,557.5 570,557.5 574,558 575,558 576,576.5 578,575.5 580,575.5 584,576.5 588,575 592,574.5 596,574 600,574.5 604,575 606,574 610,574 614,574 616,574.5 617,553 618,553.5 620,553.5 624,553 628,553 630,553 634,553 636,552.5 640,553.5 642,554 644,554 646,554 650,553.5 652,553.5 656,553.5 658,553.5 662,553 664,553 666,553.5 670,553.5 672,553.5 674,553 676,553 678,553.5 680,553.5 684,553 688,553 690,553.5 694,554 698,554 702,554 704,554.5 706,554 710,554 712,554 716,553.5 718,553 720,553.5 724,554 726,554.5 728,554.5 730,554.5 732,554.5 734,554 736,554 740,554 742,554 746,554.5 748,554.5 750,554.5 754,554.5 758,555 760,555 764,555.5 768,555 770,555.5 772,555.5 774,555.5 778,555 780,555 784,555 788,554.5 790,555 794,555 796,555 798,554.5 800,554.5 802,554.5 804,554.5 808,555 810,555.5 814,556 818,555.5 820,555 822,554.5 826,554.5 828,554.5 830,554.5 834,549.5 836,549.5 838,549.5 840,550 842,549.5 844,549.5 848,549.5 850,549 852,549.5 854,549 858,549 860,549 864,549.5 868,549.5 870,550 874,549.5 878,549.5 880,549 882,549.5 886,549.5 888,549.5 890,550 893,550 894,549.5 896,550 900,549.5 902,549.5 906,549.5 908,550 912,550 916,549.5 918,549.5 922,549 926,549 930,548.5 932,548.5 934,549.5 938,550.5 940,550 944,550 946,549.5 948,549.5 952,549.5 954,549.5 956,551.5 958,556 960,556.5 964,556 965,556 966,556 968,555.5 970,556 974,555.5 976,556 980,557 982,557 984,556.5 986,557.5 988,558 990,558 992,558.5 994,558.5 996,558.5 1000,558 1003,557.5 1005,557.5" fill="none" stroke="#9B8B2B" stroke-width="1"/>
<polyline points="20,542.5 24,542 26,542 28,542 30,541.5 34,542 36,542 40,542 44,542 46,542.5 50,542.5 54,542.5 56,543 58,543 60,543.5 64,543.5 66,543.5 68,543.5 70,543.5 74,544 76,544 80,544 82,544 86,543.5 88,544 90,543.5 92,544 94,543.5 96,543.5 100,544 102,544 104,544.5 106,544.5 108,544.5 110,544.5 114,545.5 116,545.5 118,545.5 120,545 122,545 126,545 128,545 132,545 136,545 138,544.5 142,544 144,544 148,543.5 152,544 154,543.5 158,543.5 160,543.5 164,543 166,542.5 170,543 172,543 174,543 176,543 178,542.5 180,542 184,542 188,543 190,543 192,543.5 196,543.5 198,543.5 200,543.5 202,543.5 204,543.5 208,543.5 212,543.5 214,543.5 216,543 218,543 220,543 222,543 226,543 230,542.5 232,542 234,542 236,542 238,543 240,543 242,543 244,543.5 248,542.5 252,543 256,543 258,543 262,544 264,544 268,544 272,544.5 276,545 278,545 280,545 284,544.5 288,545 292,545.5 294,545.5 298,546 300,546 304,546 308,546 310,545.5 312,544.5 316,544.5 320,544 324,544 326,543.5 328,543.5 332,543 336,543 338,543 340,543 344,543 346,543 348,543.5 350,543 354,543 358,543 360,543 364,542.5 366,542.5 368,542.5 372,542 376,543.5 380,544 384,544 388,543.5 392,543.5 396,544 398,544 400,544 402,543.5 404,543.5 406,543.5 408,543.5 412,543 414,543.5 418,543.5 420,543 422,544 426,544.5 430,544.5 434,545 436,545 438,545.5 442,546 446,546 448,546 450,546.5 454,546.5 456,546.5 458,547 460,547 464,547 468,547.5 470,547 474,546.5 476,546 480,546.5 482,546.5 486,546 490,546.5 494,546.5 496,546.5 498,546 500,546 504,546 506,545.5 508,545.5 512,545 514,544.5 518,545.5 520,545.5 524,545.5 528,545.5 532,545.5 536,545.5 538,545.5 540,545.5 544,545 548,545 552,544.5 554,543.5 556,543 558,542.5 560,542.5 562,542.5 564,542 568,541.5 572,541 575,540.5 576,558 580,558 582,558.5 586,559 588,558.5 590,558.5 592,558.5 596,558.5 598,558.5 602,559 604,559 608,559.5 610,559.5 614,558.5 616,558.5 617,539.5 618,539 620,539 622,538.5 626,538.5 628,538.5 632,539 636,539.5 640,540 642,540 646,540 648,540.5 652,540.5 656,541 658,541 660,541 662,540.5 664,540.5 666,540.5 670,540 672,540 676,540 680,540 682,540 686,539.5 688,539.5 692,539.5 696,540 698,539.5 700,539.5 702,539 704,539.5 708,539.5 712,539.5 714,540 718,540 720,540.5 722,540.5 724,541 726,541 728,541 730,541.5 732,541 734,541 738,540 740,539.5 744,539.5 748,539 750,539 752,539 756,539 758,539.5 760,540 764,540.5 766,540.5 770,540.5 772,541 776,540.5 780,540.5 782,540 786,540 790,540 792,540.5 794,540.5 798,540.5 800,540.5 802,540.5 806,541.5 808,541.5 812,541.5 814,542 816,542 818,542 820,541.5 822,541.5 824,541.5 828,541.5 830,541.5 832,541 834,541 838,541 840,541 844,540.5 846,540.5 848,540.5 850,540 854,540 856,539.5 858,539.5 862,539 864,539.5 868,539.5 872,539.5 874,539.5 876,539.5 878,539 880,539 882,539 886,539 890,539 893,538.5 894,538.5 898,538 900,538 902,538 906,537.5 908,537.5 910,538 914,538 916,538 918,538 922,538 926,538.5 928,538.5 930,539 932,539 934,539 936,539 940,539 942,539 944,539.5 946,539 948,539 952,538.5 954,538.5 956,538.5 958,540 962,540.5 965,539.5 966,539.5 968,538.5 970,538 972,537.5 974,537 978,537.5 982,539 986,540 988,540.5 990,541 992,541 994,541 998,541 1000,541 1002,541.5 1003,541.5 1005,541.5" fill="none" stroke="#808000" stroke-width="1"/>
<polyline points="20,558 24,558 28,558 30,558 34,558.5 38,558.5 42,557.5 44,557.5 46,557.5 48,557.5 52,558 54,558 56,558 58,558 62,558.5 66,559 68,559 70,559 74,558.5 78,559 80,559 84,558.5 88,558 92,558.5 96,558.5 98,558.5 102,558.5 106,558.5 108,558.5 110,559 112,559 114,559.5 116,559.5 118,559.5 122,559.5 124,559 126,558.5 128,558.5 130,558.5 132,558.5 134,559 138,558 142,558 144,557.5 146,557.5 148,558.5 150,559 152,559.5 154,559.5 158,559.5 162,559.5 166,559 168,559 170,559 174,559 176,559 180,558.5 182,558 184,558 186,558 188,558.5 190,558.5 194,559 196,559.5 198,559 202,559 204,559 206,558.5 208,558 212,558 216,558 218,558 220,558 222,558 224,558 228,558.5 230,558 234,557.5 238,558.5 240,558 244,558 246,557.5 248,557.5 252,557.5 254,557.5 258,558 260,558 262,558 264,558 268,558.5 270,558.5 272,558.5 274,558.5 278,558 282,557.5 284,558 288,559 290,559.5 294,559.5 298,559 300,559 302,559 306,559.5 310,559.5 312,559.5 314,559.5 316,559 320,558.5 322,559 324,559.5 326,559 330,558.5 334,558.5 338,558.5 340,558 342,558.5 346,559 350,559 352,558.5 354,558.5 356,559 358,559.5 360,560 362,560 364,560 366,560 370,559.5 372,559.5 374,559.5 378,560 380,559.5 382,559 386,558.5 390,558.5 392,559 394,559 396,559 400,558.5 404,558.5 406,558.5 408,558.5 410,558 412,558.5 414,558.5 416,559 418,558.5 420,558 424,558.5 426,559 430,559.5 434,559 436,559 438,559 442,559 446,558.5 448,558.5 450,559 454,559.5 456,559.5 458,559.5 462,559 466,559.5 468,560 470,560 472,560 476,559.5 478,559 480,560 482,560 486,559 488,559 490,559.5 492,559 494,559.5 496,559.5 500,559.5 504,558 506,556.5 510,554.5 512,554 516,553.5 518,553.5 522,553 524,553 526,553 528,553 532,553 534,553 536,552.5 538,552.5 542,552 546,551.5 548,551.5 550,551.5 552,551 554,551 558,550.5 562,550 566,549.5 568,549.5 570,549.5 574,549.5 575,549.5 576,565 578,565 580,565 582,565.5 584,565.5 586,565.5 588,565.5 592,565.5 594,565.5 596,565.5 598,565.5 600,565.5 602,565.5 606,565.5 610,565 612,565 614,565.5 616,565.5 617,546 618,546.5 620,547 622,546.5 624,546 628,545.5 630,545.5 634,545.5 636,545.5 638,545.5 640,546 642,546 646,546.5 648,546.5 650,546.5 652,547 654,547 656,547 660,547 662,547 664,547 666,547.5 670,547 672,547.5 676,547 678,547 682,547 684,546.5 686,546.5 688,546.5 690,546.5 692,546.5 696,546.5 698,546.5 702,546.5 706,547 708,547 712,547 714,547 718,547.5 720,548 722,548 726,548.5 728,548.5 730,548 732,548 736,547.5 740,547 742,547.5 744,547 748,547.5 752,547 754,547 758,547.5 760,547.5 762,547.5 766,547.5 770,548 772,548 774,547 778,547 780,547 782,547.5 784,547 786,547.5 788,547.5 792,548 794,548.5 798,548.5 800,548 802,548 804,548 806,548 808,548.5 810,549 814,549 816,549 820,548 822,548 824,548 828,548 830,548.5 834,546 836,546 838,546 842,546 844,545.5 846,545.5 848,545.5 852,545.5 856,545.5 858,545.5 860,545.5 862,545.5 864,546 868,546 872,546 874,545.5 876,545 880,545 884,545 886,545 890,545.5 892,546 893,546 894,546 898,545.5 900,545.5 902,546 904,545.5 908,545.5 912,546.5 916,546.5 918,546 920,546 922,546 926,545.5 928,546 930,546 932,546 934,546.5 936,546.5 940,546.5 944,546.5 946,546.5 948,546.5 950,546.5 954,546.5 958,550.5 962,550.5 964,550 965,550 966,550 970,549.5 972,549 976,548.5 980,550 984,550.5 986,551.5 988,551.5 990,552 994,552 996,552.5 1000,552 1003,552.5 1005,552.5" fill="none" stroke="#D2691E" stroke-width="1"/>
<polyline points="20,563.5 22,563.5 24,563.5 26,563.5 28,563.5 32,564 34,564 36,564 40,563.5 42,562.5 46,563 48,563 50,563 52,563 56,562.5 58,563 62,563.5 64,564 66,564 68,564 72,564 76,564 80,564.5 82,564.5 84,564 86,564 88,563.5 90,563.5 92,564 96,564 98,564.5 102,564.5 104,564.5 106,564.5 110,564.5 112,565 114,565 116,565 120,565 124,564.5 126,564 128,564 130,564 132,564.5 134,565 138,564 140,564 142,564 146,564.5 150,565.5 152,565.5 154,565.5 156,565.5 160,564.5 162,565 166,564.5 168,564.5 172,565.5 174,565 178,564 182,564 186,564.5 190,565 192,565 196,565 200,564.5 202,565 206,564.5 210,564.5 212,564 214,564 218,564 220,564 224,564 226,564 228,564 230,563.5 232,564 236,563.5 238,564 242,564 246,564 248,563.5 250,563.5 252,564 254,564 258,563.5 262,563 266,563 268,563 272,563.5 274,563 276,563.5 280,563 284,563.5 288,564 290,564 292,564 294,564 296,563.5 298,563.5 300,563.5 302,563.5 304,564 308,564.5 310,564.5 312,564 314,564 316,563.5 318,563.5 320,563.5 322,564 324,564.5 328,564 330,563.5 332,564 336,564 340,564 344,564 348,564.5 352,563.5 354,564 356,564.5 358,564.5 362,565 364,564.5 366,564.5 368,564.5 370,564 374,564 376,564.5 378,565 380,565 384,564 386,564 388,564.5 390,564.5 394,565 396,565 400,565 404,564.5 408,564.5 410,564 412,564.5 416,565.5 420,564.5 424,565 428,565.5 430,565.5 434,565 436,565 438,565 440,564.5 442,564 444,564 446,563.5 448,564 450,564.5 452,564.5 456,564.5 458,564.5 460,564 462,564 464,564.5 468,565 470,565 472,565 474,564.5 476,564.5 478,564.5 480,565.5 482,565.5 484,565 486,564 488,564.5 490,564.5 494,565 496,565 500,565 502,565 506,563 510,561 512,560 514,559.5 516,559.5 520,559.5 522,559 524,559 526,558.5 530,559 532,559 534,559 538,559 540,559 542,558.5 544,558 548,558 552,557.5 556,557 558,557 560,557 562,557 564,557.5 566,557 570,557 574,557 575,557 576,575 578,574.5 582,575 584,575 586,574.5 588,574 590,573.5 592,573 596,573 598,573 600,574 604,574.5 606,574 608,574 610,574 614,573.5 616,573.5 617,552.5 618,552.5 622,553 624,552.5 626,552.5 630,553 632,553 636,553 638,553 640,554 644,554.5 646,554.5 648,554 652,554.5 654,554.5 658,555 660,555 662,555 666,554.5 670,554.5 672,554.5 674,553.5 676,553 678,553 680,553.5 682,553.5 684,553 686,552.5 688,553 690,553.5 694,553.5 698,553.5 700,553 702,553 704,553.5 706,553.5 710,553.5 712,553.5 714,553 718,553 720,553 722,553 724,553.5 728,553.5 732,553.5 734,553 736,553 738,553 742,552.5 746,553.5 748,554 750,554 752,554 756,553.5 760,554 762,554 766,553 768,553 770,553.5 772,554 776,554 780,554 782,553.5 784,554 786,554 788,553.5 790,553.5 794,554 796,554.5 798,554.5 800,555 802,555 806,556 810,556 814,556.5 818,556 822,555 824,555 826,555 828,555 830,554.5 832,552 834,550 838,549.5 842,549 844,549 846,548.5 850,548.5 852,548.5 856,548.5 858,548.5 862,548.5 866,549 870,549 872,549 874,549 876,549 878,549 882,549 886,549 890,549.5 893,549 894,549 896,548.5 900,548.5 904,548.5 906,548 910,549 914,549 916,549 918,549 922,549 924,548.5 926,549 928,549 930,549 934,549.5 938,550 942,549.5 944,549.5 948,549 952,549.5 954,549.5 956,551.5 958,556 960,556.5 962,556 964,555.5 965,555.5 968,555 970,554.5 972,554 976,554.5 980,556 984,556 988,557.5 990,557.5 992,557.5 996,557.5 1000,557 1002,557.5 1003,557.5 1005,557.5" fill="none" stroke="#B22222" stroke-width="1"/>
<polyline points="20,565.5 24,565.5 26,565.5 30,565.5 32,566 34,566 36,566 40,565.5 42,565 44,565 46,565.5 48,565 50,565 54,564.5 56,564.5 58,564.5 62,564.5 64,564.5 68,565 70,565 74,564.5 76,564.5 78,564.5 82,564.5 84,564.5 86,564.5 90,564 94,564 98,564.5 102,564.5 104,564.5 106,564.5 108,564 110,564.5 114,564.5 116,564.5 118,564.5 120,564.5 122,564.5 126,564 130,563.5 134,564 138,563.5 140,563 144,563 146,563 148,563 150,564 152,564.5 154,565 158,565 160,565 162,565 166,564.5 170,565 172,565.5 174,565 178,564.5 180,564.5 184,564 186,564.5 190,565.5 192,565.5 196,565.5 200,565.5 202,565 204,565 208,564.5 212,564 214,564 218,564 220,564 222,564 226,564.5 228,564 230,564 234,564 238,564.5 240,565 242,565 246,564.5 248,564.5 250,565 252,565 256,565 258,564.5 260,564.5 262,564.5 266,564.5 270,564.5 272,565 276,565 278,564.5 280,565 282,565 284,565.5 288,567 292,567 294,566.5 298,566 302,565 304,565.5 308,566 310,566 314,565.5 316,565 320,564.5 322,565 324,565 326,564.5 328,565 332,564.5 334,565.5 338,565 340,565 344,565.5 346,566 350,565.5 352,565 356,565.5 358,565.5 360,566.5 364,566 366,566 368,566 372,565 376,565.5 378,566 380,565 384,564 386,564 388,564.5 390,565 392,565 396,565.5 400,565 404,565 408,565 410,564.5 412,565 416,566 418,565 420,564 422,564.5 424,565.5 426,565.5 430,566 432,565.5 436,565 438,565 440,564.5 442,564.5 444,564 446,564.5 448,565 450,565 452,566 454,566 456,566 458,565.5 462,565.5 464,566 466,566 470,566 472,565.5 474,565.5 476,565 478,565.5 480,566 482,566 484,565.5 488,565 490,565.5 494,566 498,565 500,565.5 502,564.5 504,563 508,560 512,557 514,555.5 518,556 520,556 522,555.5 524,555.5 526,556 530,556 534,556 536,556 538,556.5 540,556.5 544,556 546,556 550,555.5 554,555 558,555.5 562,555.5 566,555.5 570,555.5 574,555.5 575,554.5 576,572 578,572 582,572 584,572 588,571.5 592,571 594,571.5 596,571 600,571.5 602,572 604,572 606,571.5 608,572 612,571.5 616,571 617,550.5 618,551 620,551 622,551.5 626,550.5 630,550.5 634,550.5 638,551 642,551.5 646,552 650,551.5 654,551.5 656,551.5 658,551.5 662,551 666,551 668,551.5 670,550.5 672,550.5 676,550.5 680,551 682,551 684,550 686,549.5 690,550 692,550 696,550.5 698,550.5 700,550.5 702,550.5 704,550.5 708,551 710,551 712,551 714,550.5 716,550.5 718,551 722,551.5 726,552 728,552.5 732,553 736,552.5 740,551.5 744,551.5 746,551.5 748,552 752,551.5 756,551.5 760,552 762,552 766,551.5 770,552 772,552 776,551.5 778,551 780,551 782,551 786,550.5 788,550.5 792,551 796,551.5 800,551 802,551 806,551 810,551.5 814,551.5 818,551.5 822,551.5 826,551.5 828,551.5 830,551.5 832,550 834,548 836,548.5 840,548.5 842,548.5 844,548.5 846,548 850,548 852,548 856,548 858,548 860,548 864,548.5 866,548.5 868,548.5 870,548.5 874,548.5 876,548.5 880,548 882,547.5 886,547.5 888,547.5 892,547.5 893,547.5 894,547.5 898,547 902,547 906,547 910,548 912,548.5 916,548 918,548 920,548 924,547.5 928,547.5 930,547.5 932,547.5 936,548.5 938,549 940,548.5 942,548.5 944,548.5 948,548.5 950,548.5 954,548.5 956,551 958,554.5 960,555 964,554.5 965,554 968,553.5 972,553 974,553 978,553.5 982,555 984,555 986,555.5 988,556 990,556 994,556.5 996,556.5 998,556 1000,556 1002,556 1003,556.5 1005,556.5" fill="none" stroke="#E8532A" stroke-width="1"/>
<polyline points="20,551 24,550.5 26,550 28,550 32,550 34,550.5 36,550.5 38,550.5 40,550.5 42,550.5 46,550.5 50,551 54,550.5 58,551 60,551.5 64,552 66,552 68,552 72,552 76,552 78,552 82,552 84,552 88,552 90,552 92,552 94,551.5 98,552 100,552.5 104,552.5 106,552.5 110,552.5 114,553.5 116,553 120,552.5 124,552 126,552 130,552.5 132,552.5 136,552.5 138,551.5 140,551.5 142,551.5 144,551.5 146,551 148,551 150,551.5 152,552 154,552 156,552 158,551.5 160,551.5 162,551.5 166,551 170,552 174,552 176,552 178,551.5 180,551 182,551 184,551 186,551.5 188,552 190,552.5 194,552.5 196,552.5 198,552.5 200,553 204,552.5 208,552.5 210,552.5 212,552.5 214,552.5 216,552.5 218,552.5 220,552.5 224,552.5 226,552.5 228,551.5 230,551.5 232,551 234,551.5 236,551.5 238,552 240,552 242,552 246,551.5 248,551 252,551.5 256,551.5 258,551 260,551 262,551 266,551 270,551 272,551.5 276,551.5 278,551.5 280,552 282,551.5 286,552.5 288,552.5 292,552.5 296,553 298,552 302,552 304,552 306,552 310,552 314,551.5 318,551.5 320,551.5 322,552 324,551.5 326,551.5 330,551.5 334,551.5 336,551.5 338,551 340,551 344,551 348,551 350,550.5 352,550 354,551 356,551 358,551.5 362,551.5 364,552 366,551.5 368,552 372,551.5 376,552.5 378,552.5 380,552.5 384,552.5 388,552.5 392,553 396,553.5 398,553.5 400,553 402,553.5 404,553 406,553 408,553 412,553 416,553.5 418,553 422,553 424,554 426,554 428,554 430,553.5 432,554 436,554 438,554 442,554 446,554 448,554 450,554 454,554.5 456,554.5 460,554.5 462,554.5 464,554.5 466,555 470,555 472,555 474,554.5 476,553.5 480,554.5 484,554 486,553.5 488,554 492,553.5 496,553.5 500,554 502,556 506,560 510,563 514,566 518,566 522,565.5 526,565.5 528,565.5 532,566 534,566 536,566 538,566 540,566 544,566 546,566 550,565.5 554,565.5 556,565.5 560,566 562,566 566,566 568,565.5 572,566 574,566 575,566 576,578.5 578,578.5 582,579 584,579 586,578.5 588,578 592,577.5 594,578 598,578 602,578.5 604,578 606,578 610,577.5 612,577 614,577 616,577 617,560.5 618,560.5 622,561.5 624,561 626,561 630,560.5 632,560.5 636,560 638,560 640,560.5 644,562 646,562.5 650,562 654,563 658,562.5 660,562.5 662,562 664,562 666,562.5 668,562 670,561.5 672,561.5 674,561 678,561 680,561.5 684,561.5 686,561 690,561.5 692,561.5 696,561.5 700,561.5 702,561.5 704,561.5 706,561.5 710,561.5 712,561 716,560.5 718,560.5 720,561.5 724,562 726,562 728,562 730,562 734,561.5 736,561 740,560.5 742,561 744,561 746,561.5 748,561.5 750,562 752,562 754,562 758,562 760,562 762,562.5 766,561.5 768,561.5 772,562.5 776,562 780,562 782,562 786,561.5 788,561.5 792,562 796,562.5 798,562.5 802,562 804,562 806,562 808,562.5 810,562.5 812,562.5 816,562 818,562 820,561.5 824,561 826,561 828,561 830,561 832,557 834,553.5 836,553.5 840,553.5 842,553.5 844,553 848,553 852,553.5 856,553 858,553 860,553 864,553.5 868,553.5 872,553.5 874,553.5 876,554 880,553.5 882,553.5 884,553.5 886,554 888,554 890,554.5 893,554.5 894,554.5 896,554 898,553.5 902,553.5 906,553 908,553.5 910,554 914,553.5 916,553.5 920,553 922,553 924,552.5 928,552.5 932,552.5 934,553 938,554 942,553 944,553 946,553 948,553 952,553 954,554 956,557 958,563.5 960,563.5 962,564 965,564 966,564 968,563.5 972,563.5 976,563.5 978,564 980,565 982,565 986,565.5 988,566.5 990,567 992,567 994,567 998,566 1002,566 1003,566 1005,566" fill="none" stroke="#B8A0E8" stroke-width="1"/>
<polyline points="20,555.5 24,555.5 26,555.5 30,555.5 34,556 38,555.5 42,555 46,555.5 48,556 50,556 54,555.5 56,555.5 60,556 62,556.5 64,556 66,556 68,556 72,555.5 74,555.5 76,556 80,556.5 84,556 88,555.5 90,555.5 92,555.5 96,555.5 100,555.5 102,555.5 104,555.5 106,556 110,556 114,557 116,557 118,557 122,557 124,557 128,557 132,556.5 134,557 136,556 138,556 142,555.5 144,556 146,556.5 148,556.5 150,557 152,557.5 154,557.5 158,557 162,557 164,556.5 168,556.5 170,556.5 174,556.5 176,556.5 180,556 182,556 186,556 188,556.5 192,557 194,557 196,557 200,557 202,557 206,556.5 208,557 212,557 214,557 218,557 222,557 226,557 230,556.5 234,556 236,556.5 238,556.5 240,556.5 244,557 246,556.5 250,556.5 252,557 256,557 258,556.5 260,556.5 262,556.5 266,556.5 268,556.5 272,557 276,557.5 280,556.5 282,556.5 284,556.5 288,557.5 290,557.5 294,557.5 296,558 298,558 300,558 302,557.5 304,558 306,557.5 308,557.5 310,557.5 314,557 318,556.5 320,556.5 322,557.5 324,557 328,556.5 330,556.5 332,556 334,556 338,556 340,556 344,556 346,556.5 348,556.5 352,556 354,556 356,556 358,556.5 360,556.5 362,556.5 366,556 368,556 370,556 374,556 376,556.5 380,556.5 384,555.5 386,555.5 390,556 392,556 396,556.5 398,556.5 402,555.5 406,555.5 410,555 412,555.5 414,556 418,556 422,555.5 424,555.5 426,556 430,556 434,555.5 436,555.5 440,555.5 444,555 446,555 450,555.5 452,555.5 454,556 458,556 460,556 464,556.5 466,556.5 470,556.5 472,556.5 476,556 478,556.5 482,557 486,556 488,556.5 490,557 492,557.5 494,558 498,557.5 500,558 502,557.5 506,557 508,556.5 512,556 514,556 516,556 520,556 522,555 524,554.5 528,555 532,555.5 534,555.5 536,555.5 538,555.5 540,555.5 544,555.5 546,555.5 550,555 554,554.5 558,554 560,554 562,554.5 564,554.5 566,554.5 568,554.5 572,554.5 574,555 575,555 576,572 578,571.5 580,571 584,572 588,571 592,571 594,571 598,570.5 602,571 604,571 606,570.5 610,570.5 612,570 616,570 617,549.5 618,549.5 622,550 624,549 626,548.5 630,548.5 632,548.5 634,548.5 638,548.5 640,548.5 642,549 646,549 650,549.5 652,550 656,549.5 660,549.5 664,549 668,549.5 670,549 672,548.5 676,548 680,548.5 682,548.5 684,547.5 688,547.5 690,547.5 692,547.5 694,547.5 696,547.5 700,548 702,548 706,548.5 708,549 712,549 716,549 718,549.5 720,550 722,550 726,550.5 728,550.5 730,551 734,550.5 738,550 742,549.5 744,549.5 748,549.5 752,549.5 756,550.5 758,550.5 760,550 762,550 766,550 768,550 770,550.5 772,550.5 776,550.5 778,550.5 782,550 786,550 788,550 792,551 796,551.5 800,550.5 802,551.5 804,551.5 806,552 808,551.5 812,552 816,552 818,552 822,551.5 826,551.5 828,551.5 830,552 832,550 834,548 836,548.5 838,548.5 840,548 842,547.5 844,547.5 846,547.5 850,547.5 854,547.5 856,548 860,547.5 864,548.5 868,548.5 872,548.5 874,548.5 878,548 880,548 882,548 884,548 888,548.5 890,548.5 893,548 894,547.5 896,547 900,547 904,547 906,546.5 910,547 912,547 916,547 918,547 920,546.5 924,546.5 926,546.5 928,546.5 930,547 932,547 934,547.5 938,548 942,548 946,547.5 948,547.5 950,547.5 952,547.5 954,547.5 958,553 960,553.5 962,553.5 964,553 965,553 966,553 968,552.5 972,552 976,552 980,553.5 984,553.5 986,554.5 988,554.5 990,555 992,555 994,555 996,555 998,555 1002,554.5 1003,554.5 1005,554.5" fill="none" stroke="#A020A0" stroke-width="1"/>
<polyline points="20,549 22,549 24,549 28,549 30,548.5 32,549 34,549 36,549 40,548.5 42,548 44,548.5 48,548.5 50,548 52,548 56,548.5 58,549 62,549.5 66,549.5 70,550 72,549.5 74,549.5 76,550 80,550 82,549.5 84,549.5 86,550 90,549.5 92,549.5 94,549.5 98,549.5 102,550 104,550 106,550 110,550 112,550.5 114,550.5 116,550.5 118,551 120,551 124,550.5 126,550.5 130,550.5 132,550.5 134,551 136,550 138,550 140,549.5 144,549.5 146,549.5 148,550 152,550.5 154,550.5 158,550.5 160,550.5 162,550 166,549.5 168,550 170,550.5 172,550.5 174,550.5 176,550 178,549.5 180,549.5 184,549.5 186,549.5 190,550 192,550 194,550 196,550 200,550 204,550 206,550 210,550 214,550.5 218,551 220,551 224,551.5 228,551 232,551 236,551 238,551 242,551.5 246,550.5 248,550.5 250,550.5 254,551 258,551 262,551 264,551.5 266,551.5 268,551.5 272,552 274,552 276,552 280,552 282,552.5 284,552.5 286,553 288,553.5 290,553 292,553 296,553.5 298,553.5 302,553 304,553.5 306,553 308,553 310,553 312,552.5 314,552.5 316,552 320,552 322,552.5 324,552.5 328,552 330,551 332,551 334,551 338,551.5 340,551.5 344,551.5 348,551.5 352,550.5 354,550.5 356,551 360,551.5 364,551 366,550.5 368,550.5 370,550.5 374,550.5 376,551.5 380,552 384,551.5 386,551.5 390,551.5 394,552 398,552.5 400,552 404,552 408,551.5 410,551.5 412,551.5 414,552 418,551.5 422,550.5 426,551.5 430,551.5 432,552 436,552 440,552 444,552 448,552.5 450,552.5 452,552.5 456,552.5 460,552.5 462,553 466,553 468,553 470,553.5 472,553 474,553 476,553 478,553.5 482,554 486,553 488,553.5 492,553.5 494,554 496,553.5 500,554 502,554.5 506,554 508,554 510,553 512,552.5 514,552.5 516,553 520,553 522,552.5 526,553.5 530,553.5 532,553.5 534,553.5 538,553.5 540,553.5 544,553 546,553 548,552.5 550,552 554,551.5 558,551 562,551 564,550.5 566,550 570,550 572,550 575,550 576,566 578,566.5 582,566.5 584,566.5 588,566 592,566 596,566 598,565.5 600,565 602,565.5 604,565.5 608,565 610,564.5 614,564.5 616,564 617,545.5 618,545.5 622,545.5 626,544.5 630,545 634,545 638,545.5 640,546 642,546.5 644,546.5 646,546.5 650,547 652,547 656,547.5 660,548 662,547.5 666,547.5 668,547.5 670,547 672,546.5 676,547 680,547 684,547 686,546 690,546.5 692,546.5 696,546.5 698,546.5 702,546.5 704,546.5 706,546.5 708,546.5 710,547 712,547 716,546.5 718,546.5 722,547 724,547.5 726,547.5 730,547 734,547 738,546 740,546 744,545.5 746,545.5 748,546 750,546 754,546 758,546.5 762,547 764,546.5 766,546.5 768,546 772,546 774,546 776,546 778,545.5 782,545.5 786,545 788,545 792,546 794,545.5 796,545.5 798,545.5 800,546 802,546 806,546 808,546.5 812,547 816,547 820,546.5 822,546 826,546 828,546.5 830,546.5 832,546 834,544.5 836,544.5 838,544.5 842,544 844,543.5 846,543.5 850,543.5 852,543.5 854,543.5 856,543 860,543 862,543 866,543 870,543 874,543 878,542.5 882,543 886,543.5 890,543.5 892,543.5 893,543.5 894,543.5 898,543 902,543 906,543 910,543.5 914,543.5 918,543.5 920,544 922,544 926,543.5 930,543.5 934,543.5 936,544.5 938,544.5 940,544 942,544 944,544 946,543 950,543 952,543 956,544.5 958,548 960,548.5 962,548 964,547.5 965,547 968,547 970,546.5 974,546 976,545.5 978,546 980,547.5 984,548 986,548.5 988,549 990,549 992,549 996,549 1000,549 1002,549 1003,549 1005,549" fill="none" stroke="#C0A0E0" stroke-width="1"/>
<polyline points="20,535.5 24,535 26,535 30,534.5 32,535 34,535 38,535.5 42,534.5 44,535 46,535.5 48,535 52,535 54,535 56,535.5 60,536 62,536.5 66,536.5 70,536.5 74,537 76,536.5 78,536.5 82,536.5 84,536.5 86,536.5 90,536.5 94,536.5 98,536.5 102,537 104,537 108,537.5 112,538 116,538.5 118,538.5 122,539 124,538.5 126,538.5 128,538 132,537.5 134,537.5 136,537.5 140,537 142,537.5 146,537.5 148,537.5 152,537.5 154,537.5 156,537.5 158,537 160,537.5 162,537.5 164,537.5 166,537.5 168,537 170,537.5 174,537 176,537 180,537 182,537 184,537.5 188,537.5 192,538 194,538 198,537.5 200,538 204,538 206,538.5 208,538.5 210,539 212,539 216,538.5 218,538.5 220,538.5 222,538.5 224,538 226,537.5 228,537 232,536.5 234,536 238,536 240,536.5 242,536 244,535.5 248,535.5 250,535.5 252,536 254,536 256,536.5 258,536.5 262,536.5 264,536.5 266,536.5 270,537 272,537.5 276,537.5 278,537.5 280,537.5 282,538 284,538 286,538.5 290,539 294,539.5 296,539 300,539.5 304,540 306,540 308,540 310,540 312,540 316,539.5 318,539.5 320,539 324,539 328,538 330,538 334,538 336,538 338,537.5 340,537 342,537 346,537 348,537.5 352,537 354,536.5 356,536.5 358,537 360,537 364,537 366,536.5 368,536.5 370,536.5 374,537 376,538 378,539 382,539 386,539 388,539 392,539.5 396,539 400,539 404,538.5 406,538.5 410,538.5 412,538.5 416,539.5 418,539.5 420,539 422,539 424,539.5 428,539.5 432,540 434,540 436,540.5 438,540.5 440,541.5 442,541.5 446,541 448,541.5 450,541.5 452,541 456,541.5 458,541.5 460,540.5 462,540.5 466,541 468,541 472,541 474,540.5 476,540.5 478,540 480,540.5 482,540.5 484,540.5 486,540 488,540.5 490,540.5 492,540.5 494,540.5 496,540.5 500,540.5 502,544.5 504,547.5 506,550.5 510,556 514,562 516,562 518,562 520,561.5 524,561 526,561.5 530,561.5 532,562 534,562 536,562 540,562 542,562 546,562 550,561.5 554,561 558,560.5 562,560.5 566,560.5 568,560.5 570,561 572,561 575,560.5 576,577 578,576.5 580,576 582,576.5 584,577.5 588,576.5 590,576.5 592,576 596,576 600,576.5 604,577 606,576.5 608,576.5 612,576 614,576 616,576.5 617,556.5 618,557 620,557.5 624,557 626,557 628,557 630,557 634,557 636,556.5 640,557 642,557.5 644,557.5 646,557.5 650,557.5 654,557.5 658,557.5 660,557 662,557 664,557 666,557 668,557 672,556 674,556 676,556 678,556 682,556.5 686,555.5 688,556 690,556.5 694,557 696,557 698,557 702,556.5 706,556.5 708,556.5 712,557 716,556.5 718,556 720,556.5 722,557 726,557 730,557.5 732,557 734,556.5 736,556.5 740,555.5 742,556 746,556.5 750,556.5 752,556.5 754,557 756,557.5 758,557.5 762,557.5 766,556.5 768,556.5 772,557.5 774,557 776,557.5 778,557.5 780,557.5 782,557.5 786,557.5 790,557.5 792,558.5 794,559 796,559 798,558 802,558 806,559 810,559.5 812,559.5 814,560 816,559.5 820,559.5 822,559 826,559 830,559.5 832,556 834,553 838,553.5 842,553 846,552.5 848,553 852,553 854,553 858,553.5 862,553.5 864,553.5 868,554 870,554 872,554 874,554 878,553.5 880,552.5 884,552.5 886,552.5 888,552.5 890,553 893,553.5 894,553.5 896,553 900,553 904,553 906,553 908,553.5 910,554 914,554 916,554 918,553.5 920,554 922,554 926,554 930,554 932,554 934,554.5 938,555.5 942,555 944,554.5 948,554.5 950,554.5 954,554 956,556.5 958,562 960,562.5 962,562 965,561.5 966,561.5 970,561.5 974,561 976,561 978,561 980,562.5 984,562 988,563.5 990,563.5 992,563.5 996,563 998,563 1000,563 1003,563.5 1005,563.5" fill="none" stroke="#40A8F0" stroke-width="1"/>
<polyline points="20,542.5 22,542.5 24,542 26,542 30,542 32,542 34,542.5 36,542.5 40,542 42,542 44,542 48,542 50,542.5 52,542.5 56,542.5 60,543.5 62,543.5 66,544 70,544 74,543.5 76,544 80,544 84,544 86,543.5 88,543.5 90,543.5 92,543.5 96,543.5 98,543.5 100,544 102,544.5 106,544.5 108,545 110,545 114,545.5 116,546 118,546 120,545.5 122,545.5 124,545.5 128,545.5 132,545.5 136,545 140,544.5 142,544.5 144,544.5 146,544.5 148,544.5 152,545 156,545 158,545 160,545 164,544 166,544 168,543.5 170,544 172,544 174,544 178,543.5 182,543.5 184,544 186,544.5 188,544 192,544.5 194,544.5 196,545 198,545 202,545 206,545 210,545 212,545 214,545.5 216,545.5 218,545.5 222,545.5 226,545 230,544.5 232,544 236,544 240,544.5 242,544.5 244,544.5 246,544.5 248,544 250,544 252,544.5 256,545 258,545 260,545 262,544.5 264,544.5 266,545 268,545 272,545 274,545 276,545 280,545 282,545 286,545.5 288,546 290,546 292,546.5 296,546.5 298,546.5 300,546 302,546 304,546 308,546 310,545.5 312,545.5 314,545 316,544.5 318,544 320,544 324,544.5 326,544.5 330,543.5 332,544 336,544 338,544 340,543.5 342,543 344,543.5 346,543.5 348,544 350,544.5 352,544 354,544 356,543.5 358,543.5 360,543.5 362,543.5 364,543.5 366,543 370,543 374,543 376,543.5 380,544.5 382,544 384,544 386,544 388,544.5 390,544.5 394,545 398,545 402,544.5 406,544.5 410,544 412,544.5 414,545 416,545 418,545 420,544.5 422,544.5 424,545 428,545 430,545 432,545 436,545 438,545.5 442,545.5 444,545.5 448,546 452,546 454,546 458,546.5 462,546.5 464,546.5 468,547 472,546.5 476,546 480,546.5 482,546.5 486,546 490,547 492,547 494,547 496,547 498,547 500,547 502,547.5 504,547.5 508,547.5 512,548 516,548 518,548 522,547.5 524,547.5 526,547.5 528,547.5 532,547.5 534,547.5 536,547.5 538,547.5 540,547.5 542,547.5 544,547 546,546.5 550,546.5 552,546 554,546 558,545.5 562,545 564,545.5 568,545 570,544.5 572,544.5 575,544 576,560 578,560 580,560 584,560.5 588,560 590,560.5 592,560 596,560 598,560.5 600,561 602,560.5 606,560.5 610,560 612,560 614,560.5 616,560.5 617,541.5 618,541.5 622,541.5 626,540.5 630,541 632,541 634,541 636,540.5 638,541 640,541.5 642,541.5 646,542 648,542.5 650,542.5 654,542.5 656,542.5 660,543 662,542.5 666,542.5 670,542.5 672,542 676,542 678,542 682,542 684,541.5 686,541.5 688,541.5 692,542 696,542.5 698,542.5 700,542.5 704,542.5 708,542.5 712,543 716,542.5 718,542.5 720,543 722,543 724,543.5 728,543.5 732,543 736,542.5 738,543 740,542.5 742,542 744,542 746,542 750,542 752,542.5 756,542.5 758,542.5 760,542.5 762,543 766,543.5 770,544 772,543.5 774,543.5 776,543.5 778,543.5 780,542.5 784,542.5 786,542.5 790,542.5 792,542.5 796,542.5 800,542.5 802,543 806,542.5 808,543 810,543 812,543 816,542.5 820,543 822,542.5 824,542.5 828,543 830,543 832,542.5 834,542.5 836,542.5 838,542 840,541.5 844,541.5 848,541 850,541 852,541.5 854,541 858,541.5 860,541 862,541.5 864,541.5 866,541.5 870,541.5 872,541 874,541.5 878,541 880,541.5 884,541 886,541 890,541 893,541 894,541 898,541 900,540.5 902,540.5 904,540.5 906,540.5 908,541 910,541 912,541 914,541 918,541 920,540.5 924,540.5 928,540.5 930,540 934,541 936,541 938,541.5 942,540.5 946,540.5 948,540.5 950,540.5 952,540.5 954,540.5 956,541.5 958,543 962,543.5 964,542.5 965,542.5 966,542.5 970,541.5 974,541 976,541 978,541.5 980,542 984,542.5 988,543.5 990,544.5 994,545 996,544.5 1000,545 1002,545.5 1003,545 1005,545" fill="none" stroke="#E06020" stroke-width="1"/>
<polyline points="20,544.5 24,544.5 26,544.5 30,544 34,544.5 38,545 40,544.5 42,544.5 46,545 48,545 52,545 56,545 60,545 64,545 68,545.5 72,545 76,545 80,545.5 84,545 86,544.5 90,544.5 92,545 94,544.5 98,545 100,545 104,544.5 106,545.5 108,545.5 110,545.5 114,545.5 118,546 120,546 124,546 126,546 130,545.5 132,545.5 134,545.5 136,545 138,545.5 140,545 144,545 146,545 150,545 152,545.5 154,545.5 158,545 162,545 166,544.5 170,545 172,545 174,544.5 176,544.5 180,544 182,544 186,544.5 188,544.5 192,545 196,545.5 200,545.5 202,545.5 204,545.5 206,545.5 208,545.5 210,545.5 212,545.5 216,546 218,545.5 222,545.5 226,545.5 230,544.5 232,544 236,543.5 238,544 240,544 242,544 244,544.5 246,544 248,544 250,544.5 252,545 256,545 260,545 262,545.5 266,545.5 268,545.5 272,546 274,546 276,546 278,546 280,546 284,546 286,546.5 290,547 292,547 294,547 296,547.5 300,547.5 302,547.5 304,547.5 306,547 310,547 312,547 314,547 316,547 318,546.5 322,547.5 324,547.5 326,547 328,547 332,547 334,546.5 336,546 338,546 340,546 344,545.5 348,546 352,545.5 356,545.5 358,546.5 360,546.5 364,546.5 366,546.5 370,546.5 372,546 374,546.5 376,547 380,547.5 384,547 386,547 388,547 392,547 396,547 398,547 400,547 404,547 406,547 408,547 412,547 414,547.5 418,547 420,546.5 422,546.5 424,547 428,547 432,547.5 434,547.5 436,547.5 438,547.5 442,547.5 446,547.5 448,548 452,547.5 456,547.5 460,548 462,548 466,548 468,548 472,548 474,548 476,547 478,547 482,547.5 486,547.5 488,547.5 490,548 492,548 494,548 496,548 500,548.5 504,548 506,547.5 508,547 510,547 512,546.5 516,546.5 518,546 520,546 524,546 528,546.5 530,547 532,547 536,546.5 538,546.5 542,546 544,545.5 548,545.5 552,545 554,544.5 558,544 562,543.5 566,543 568,542.5 570,542 572,542.5 574,542.5 575,542 576,558.5 578,558.5 582,559 586,559.5 588,559.5 590,559.5 594,559 598,559 602,559 604,559 608,559 610,559 614,558 616,558 617,539 618,539 622,539 626,538.5 630,539 632,539.5 636,539.5 638,540 642,540.5 644,541 648,541.5 650,541.5 654,541.5 658,542 660,542 664,541.5 666,542 670,542 672,541.5 674,541.5 676,541.5 678,541.5 680,541 682,541 684,541 686,540.5 688,540.5 692,540.5 696,540.5 698,540.5 700,540 702,540.5 706,540.5 708,540.5 710,540.5 714,540.5 716,540.5 720,540.5 722,540.5 726,540.5 728,541 730,541 732,541 736,540.5 740,540 744,540.5 746,540 748,540.5 750,540.5 754,540.5 758,541 760,541 764,542 768,542 770,542.5 772,542 776,541.5 780,541 782,541.5 784,541 786,541 788,540.5 792,540.5 796,541 798,540.5 800,540 802,540.5 804,540.5 806,540.5 808,541.5 812,541.5 814,542 816,541.5 820,541.5 822,541.5 824,541 826,541.5 828,542 832,541.5 834,541 838,541 842,540.5 844,540.5 846,540.5 848,540.5 850,540 852,540 856,539.5 858,539.5 862,539.5 864,539.5 866,539.5 868,539.5 872,540 876,539.5 878,539.5 880,539.5 882,540 886,540 888,540 890,540 893,539.5 894,539.5 896,539.5 898,539.5 902,539.5 906,539.5 908,539.5 910,539.5 914,539.5 916,539.5 920,539.5 924,539 926,539.5 928,539.5 930,540 934,540 936,540.5 940,540.5 944,540.5 946,540 950,540 952,540 954,539.5 958,541.5 962,542 964,541.5 965,541.5 968,540.5 970,539.5 974,538.5 976,538.5 978,539 980,540.5 984,541 988,541.5 990,542 992,542 996,542.5 998,542.5 1002,543 1003,542.5 1005,542.5" fill="none" stroke="#66DD00" stroke-width="1"/>
<polyline points="20,501 22,501 26,501 28,501 30,500.5 32,500.5 36,501 40,501.5 44,500.5 48,501 50,501 52,500.5 56,500.5 60,501 62,501 66,500.5 70,500.5 72,500.5 76,500.5 78,500.5 80,500.5 84,501 88,501 90,501 92,501 94,501 96,501 100,501.5 104,501.5 106,501.5 108,501.5 110,501 112,501 116,501 118,500.5 122,500.5 124,500.5 128,500.5 132,500.5 136,500.5 140,500.5 142,500.5 144,500.5 146,501 148,501.5 150,501.5 152,501.5 154,501.5 156,501.5 158,501.5 160,501.5 164,501 166,501.5 168,501.5 170,501.5 174,501 176,501.5 178,501.5 182,501.5 184,502 188,502 192,501.5 196,501.5 198,501.5 200,502 202,502 206,502 208,502 210,502 212,502 214,502 218,502 220,502.5 224,502 226,502 228,501.5 230,501.5 232,501.5 236,501.5 238,501 240,501 242,501.5 244,501.5 248,501.5 250,501 252,501 256,500.5 258,500.5 260,501 262,501 264,501 266,501 268,500.5 272,500.5 276,500.5 280,500.5 282,500.5 284,500.5 286,500 288,500 290,500 294,500 296,500.5 300,501 302,501 304,501.5 308,501.5 310,501.5 312,501.5 316,501.5 320,501.5 324,501.5 326,502 328,502 332,501 336,501 340,501.5 344,501.5 348,501.5 350,501 354,501 356,501 358,501 362,500.5 366,500.5 370,500.5 374,500.5 376,500.5 380,500.5 382,500.5 386,500 388,500.5 392,500.5 394,500.5 396,500.5 398,500.5 400,500.5 404,500.5 406,500 410,500 414,500 418,500 422,500.5 424,500.5 426,500 428,500 430,500.5 434,500.5 438,500.5 442,500.5 446,500 450,500 454,500.5 456,500.5 458,500.5 462,500.5 464,500 466,500.5 468,501 470,501 472,501 474,501 478,501.5 480,501.5 482,501.5 486,501.5 488,502 490,502 492,502 496,502 500,501.5 504,501.5 508,501.5 512,501.5 514,501.5 518,501.5 520,501.5 522,501.5 526,501.5 528,501.5 530,501 534,501 538,501 542,500.5 544,500.5 546,500.5 548,500.5 550,500.5 552,500.5 554,500.5 558,500.5 562,500.5 564,500.5 566,500 568,500 570,500 572,500 574,500.5 575,500 576,500 578,500 580,500 582,500 584,500.5 588,500.5 590,500.5 592,500.5 594,500.5 596,500.5 600,500.5 604,501 608,501 612,500.5 614,500.5 616,500.5 617,500.5 618,500.5 620,500.5 622,500.5 624,500.5 626,501 628,501 632,501 636,501.5 638,501.5 642,502 644,502 648,501.5 652,501.5 654,501.5 656,502 658,502 660,502 662,502 666,502 668,502 670,501.5 672,501.5 674,501 676,501 680,501 684,501.5 686,501.5 688,501.5 690,501.5 694,502 698,501.5 702,501.5 706,501.5 708,501.5 710,501.5 712,501.5 716,501.5 718,501.5 720,501.5 722,501.5 726,501.5 728,501.5 732,501.5 736,501.5 740,501 742,501 744,501 746,501 750,501 752,501.5 756,501.5 758,501.5 762,502 764,502 768,502 770,502 772,502 774,502 776,502 780,502 782,502 784,501.5 788,501.5 790,501.5 792,501.5 796,502 800,502 802,501.5 804,501.5 806,501.5 810,501.5 814,501.5 816,501.5 820,501.5 822,501.5 826,501.5 828,501 830,501 832,501 834,501 838,501 840,501 844,501 848,501 850,501 854,501 858,500.5 860,501 862,501 866,501 868,501.5 870,501.5 872,501.5 874,501.5 876,501.5 880,501.5 884,501.5 888,501.5 892,501.5 893,501.5 896,502 898,502 902,502 904,502 908,502 912,502 914,502 918,501.5 920,501.5 924,501.5 926,501.5 930,502 932,502 934,502 936,502 938,502 942,502 944,502 946,502.5 948,502.5 952,502.5 954,502.5 956,502.5 958,502.5 960,501.5 962,499 965,495 966,495 970,495.5 974,495.5 976,495.5 978,495.5 982,495.5 986,496 988,496 990,496 992,496 994,496 998,496 1002,496 1003,496.5 1005,496.5" fill="none" stroke="#40A8F0" stroke-width="1"/>
<polyline points="20,502.5 22,503 26,503 28,502.5 32,502.5 34,502.5 36,502.5 38,502.5 40,502 42,502 46,502 50,502 52,502 56,502 60,502 64,502 68,502 70,502.5 74,502.5 78,502.5 82,502 86,502 88,501.5 92,501.5 94,501.5 98,501.5 102,501.5 104,501.5 106,501.5 110,501.5 114,502 116,501.5 118,501.5 122,501.5 126,501.5 128,501.5 132,501 134,501 136,501 138,501 142,501 144,501 146,501 150,501 154,501 156,501.5 160,501.5 162,502 166,501 170,501 172,501 176,501 180,501 184,501 186,501 188,501 190,501 192,501 196,501 198,501 202,500.5 204,500.5 206,500.5 210,500.5 214,501 218,501 220,501 222,501 226,501 230,501 234,501 236,501 240,501.5 244,501.5 246,501.5 248,502 252,502 254,502.5 258,502.5 260,502.5 264,502.5 266,503 268,503 270,503 272,503 274,502.5 276,502.5 280,502.5 282,502.5 286,502.5 288,502.5 290,502.5 292,502 294,502.5 296,502.5 298,502.5 300,503 304,502 308,502 312,502 316,502 320,502 324,502 328,502 330,502.5 332,502.5 336,502.5 340,502.5 344,502 348,502 350,502 354,502 358,501.5 362,501.5 366,501.5 370,501.5 372,501.5 376,502 378,502 382,502 384,502 386,501.5 390,502 394,502 398,502 400,502 402,502 406,502 410,501.5 414,501.5 418,501.5 420,501.5 424,501.5 428,501.5 430,501.5 432,501.5 436,502 438,502 440,502 444,501.5 446,501.5 448,501.5 450,501.5 454,501.5 458,501.5 460,501.5 464,501.5 466,501.5 470,501.5 474,501.5 478,501.5 480,502 482,502 486,502 490,501.5 492,501.5 496,501.5 498,501 500,501.5 502,501.5 504,501 508,501 510,501 512,501 514,501.5 516,501.5 518,501.5 520,501 522,501 524,501 526,501.5 528,501.5 530,501 534,500.5 536,500.5 540,500.5 544,500 546,500 548,500 552,500 556,500 558,500 562,499.5 564,499.5 566,500.5 568,500.5 572,500.5 574,500.5 575,501 576,500.5 578,500.5 582,501 584,501 586,501.5 588,501.5 590,501.5 592,501.5 596,501 598,501 602,501 606,500.5 610,500.5 612,500.5 614,500.5 616,500.5 617,501 618,501 620,501 624,501 626,501 630,501.5 634,501 636,501 638,501.5 642,501 644,501 648,501 650,501 654,501 656,501 658,501 660,501 664,500.5 666,501 668,501 670,501 672,501 676,501 678,501 682,501 684,501 688,501.5 690,501.5 692,501.5 694,501.5 696,501.5 698,501.5 700,501.5 704,501.5 708,501 710,501 714,501 716,501 718,501 722,501 726,501 730,501 732,501.5 736,501.5 740,502 742,502 744,502 746,501.5 748,501.5 750,501 754,501.5 756,501.5 758,501.5 760,501.5 764,501.5 766,501.5 770,501.5 774,501.5 778,501.5 780,501.5 782,502 784,502 786,502 790,502 794,501.5 798,501.5 800,501 802,501 804,501.5 806,501.5 808,501.5 812,501.5 816,502 818,502 820,502 822,502 824,502.5 826,502 828,502 830,502 832,502 834,502 836,501.5 840,501.5 844,501.5 846,501.5 848,501.5 852,501.5 854,501.5 858,501.5 862,501.5 864,501.5 866,501.5 868,501.5 872,501.5 874,501.5 876,501 878,501.5 882,502 886,502 890,502 892,501.5 893,502 896,501.5 898,502 900,502.5 904,502.5 908,502.5 912,502.5 916,502.5 920,502.5 922,503 924,503 928,503 930,503 932,503 934,503 936,503 938,503 942,503 944,503 948,503 952,503 954,502.5 958,502.5 962,500.5 964,496.5 965,496 966,496 968,496.5 970,496.5 972,497 974,496.5 978,496.5 980,496.5 984,496.5 986,496.5 988,496.5 990,496.5 992,497 996,497 998,497 1000,496.5 1002,497 1003,497 1005,497" fill="none" stroke="#E8532A" stroke-width="1"/>
<polyline points="20,504 22,504 24,504 26,504 28,504 30,504 34,504 36,503.5 38,503.5 42,503 44,503 48,503 52,503 56,503 60,503 64,503 66,503 70,503.5 72,503.5 76,504 78,504 80,503.5 84,503 88,503 90,502.5 94,502.5 98,502.5 100,502.5 102,502 104,502.5 106,502.5 108,503 110,503 114,503.5 118,503.5 120,503.5 122,503.5 124,503.5 128,503 132,503 134,502.5 136,502.5 140,502 142,502.5 146,503 148,503 150,503 152,503 154,503 158,503.5 160,503.5 162,504 164,503.5 168,503 172,503 174,503 178,503 182,503 184,503.5 186,503 188,503.5 190,503.5 194,503.5 198,504 200,504 202,504 204,504 208,504 210,503.5 212,503.5 214,503.5 218,503.5 220,503.5 224,503.5 226,503 230,503 232,503 234,503 238,503 240,503.5 244,503.5 246,503.5 248,503.5 252,503.5 254,503 256,503.5 258,503.5 260,503.5 264,504 268,504 270,504 272,503.5 276,504 278,504 280,504 284,504 286,504 290,504 292,504 296,504 298,504 300,504 302,504 306,504 310,503.5 314,503.5 316,503.5 318,503 322,503.5 326,503.5 328,503.5 330,503.5 332,503.5 334,503.5 338,503 342,503 344,503 346,502.5 348,502.5 350,502.5 354,502.5 358,502.5 360,503 362,502.5 364,502.5 366,502 370,502 374,502.5 378,502.5 382,502.5 386,502.5 390,502.5 394,502.5 396,503 398,503 402,503 404,502.5 406,502.5 410,502.5 412,502.5 414,502.5 418,502.5 422,503 426,503 428,502.5 432,502.5 434,502.5 438,503 440,503 444,502.5 448,502.5 450,502.5 452,503 456,503 458,503 462,503 466,503 468,503 472,503.5 474,503.5 478,504 482,503.5 484,503.5 488,504 490,504 492,504 496,504 500,504 502,503.5 504,503.5 508,503.5 510,503 514,503 516,503 518,502.5 522,502.5 524,502.5 526,503 530,502.5 532,502 534,502 536,502 538,502 542,502 544,502 546,501.5 548,501.5 550,502 554,502 556,501.5 560,501.5 564,501.5 566,501.5 570,502 572,502.5 574,502.5 575,503 576,502.5 578,502.5 580,502.5 582,502.5 584,502.5 586,502.5 588,503 592,502.5 594,503 598,503 600,503 604,502.5 608,502 610,502 614,502.5 616,502.5 617,502.5 618,502.5 620,502.5 624,502.5 628,503.5 630,503.5 632,503.5 634,503.5 636,503.5 638,503.5 642,503.5 644,504 646,504 650,504 654,504 656,504 658,504 662,504 664,503.5 666,504 668,503.5 670,503.5 672,503.5 674,503.5 676,503 680,503 682,503.5 684,503.5 688,503.5 690,503.5 694,503 696,503 700,503 704,503 706,502.5 710,502.5 714,502.5 716,502.5 720,502.5 722,502.5 726,502.5 730,502.5 734,502 736,502 738,502 740,502.5 742,502.5 746,502.5 748,502.5 750,502 752,502 756,502 758,502 760,502 764,502.5 766,502.5 768,502.5 772,502.5 774,502.5 778,503 782,503 786,503.5 788,503.5 792,503.5 794,503.5 798,503 802,503 804,503.5 806,503 808,503 810,503 814,503 816,503.5 818,503.5 820,503.5 822,503.5 824,504 826,503.5 828,503.5 832,503.5 834,503.5 836,503.5 840,503.5 844,503 846,503 848,503.5 852,503.5 856,503.5 858,503.5 860,503 862,503.5 866,503.5 870,504 872,503.5 876,503 878,503 882,503 884,503 886,503 888,503 892,502.5 893,502.5 896,502.5 898,502.5 902,503 904,503 906,502.5 908,503 912,503 914,502.5 916,502 918,502 920,502 924,502.5 926,502.5 928,503 932,503 934,503 938,503 940,503 944,503 948,503 950,503 952,503 956,503 958,503 960,503 964,497.5 965,497 968,497 972,497 974,497 976,497 978,497 980,497 984,497 986,497 988,497 992,497.5 996,497.5 998,497.5 1000,497.5 1002,497 1003,497.5 1005,497.5" fill="none" stroke="#C020A0" stroke-width="1"/>
<polyline points="20,505.5 24,505.5 28,505 32,505 34,505 36,504.5 38,504.5 40,504.5 42,504 44,504 48,505 50,505 52,505 54,505 56,504.5 58,504.5 60,504.5 64,504.5 68,505 72,505.5 74,505.5 78,505.5 80,505.5 82,505.5 84,505.5 88,505.5 90,505 94,504.5 96,504.5 100,504.5 102,504.5 106,504 110,504.5 114,505.5 116,505.5 118,505 122,505 126,505 128,505 132,504.5 134,504 138,503.5 140,503.5 144,504 146,504 148,503.5 150,503.5 154,504 158,504.5 162,505 164,505 168,504.5 172,504.5 174,504.5 176,504.5 180,504.5 182,504.5 184,504 186,504 188,504 192,503.5 196,504 200,504 204,503.5 206,503.5 208,503.5 212,503.5 216,503 220,503 222,503 224,503 226,503 228,503.5 230,503 232,503.5 234,503.5 236,503 240,503 242,503 244,503 248,503 250,503 252,502.5 254,502.5 256,502.5 260,502.5 264,503 268,503 270,503 274,503 276,503.5 280,503.5 284,503.5 286,503 288,503.5 292,503.5 294,503.5 298,504 302,504 304,503.5 306,503.5 310,503.5 312,503.5 316,503 318,503 320,503 322,502.5 324,502.5 326,502.5 330,502.5 332,502.5 334,502 336,502 340,502 344,501.5 346,501.5 350,502.5 352,502.5 356,502 360,502 364,502 366,502 368,502 370,502 372,502 374,502.5 378,503 382,503 384,503 388,503 390,503 392,503.5 396,504 398,504 402,503.5 404,503.5 408,502.5 410,502.5 414,502.5 418,502.5 422,503 426,503.5 428,503 430,503 432,503.5 436,503.5 438,503.5 440,504 444,504.5 446,504.5 448,504.5 450,504.5 454,504.5 456,504 458,504 462,503.5 464,503.5 466,503 468,503.5 472,504 474,504 476,504.5 478,504.5 480,504.5 482,504.5 484,504.5 486,504 488,504 490,503.5 492,503.5 494,503.5 498,503.5 500,503.5 502,503.5 504,503.5 508,503 510,503 512,503 514,503 518,502.5 520,503 522,502.5 524,503 526,504 528,503.5 532,503 534,503 536,503 538,503 542,503 546,502.5 550,503.5 554,503 556,503 560,502.5 564,502.5 568,503 570,503.5 572,504 574,504 575,504 576,504 578,504 580,504 584,504.5 586,504 590,503.5 594,504 598,504 600,504 604,503.5 606,503.5 608,503.5 610,503.5 614,504 616,504 617,503.5 618,503.5 622,503.5 624,503.5 628,503.5 632,503.5 634,503.5 636,503 640,503 642,503 644,503 646,503 650,503 654,503 658,503 660,503 664,502.5 666,502 668,502 672,502 676,502.5 678,502.5 680,502.5 684,502.5 686,502.5 688,502.5 690,502 692,502 696,502.5 698,502.5 702,502.5 706,502.5 710,502.5 712,502.5 714,502.5 718,502.5 722,502 724,502 726,502.5 728,502.5 732,502.5 734,502.5 736,502.5 738,502.5 742,503 744,503 746,503 748,502.5 752,502.5 756,502.5 758,502.5 762,502.5 766,502.5 770,503 774,503.5 778,503.5 780,503.5 782,503.5 784,503 786,503 788,503 790,503 792,503 796,503 800,502.5 804,503 808,503 812,503 814,503 816,503 818,503 822,503.5 824,503.5 826,503.5 828,503.5 832,503.5 834,503.5 836,503.5 838,503.5 840,503.5 844,503 848,502.5 852,503 854,503.5 858,503.5 860,503.5 862,503.5 866,503.5 870,504 872,503.5 876,503.5 878,503 880,503.5 882,503.5 884,503.5 888,504.5 892,504 893,504 894,504 896,503.5 898,504 902,504.5 906,504.5 908,504.5 910,504.5 914,504 918,504 922,504.5 924,504.5 926,504.5 928,504.5 930,504.5 932,504.5 934,504.5 936,505 940,505 942,504.5 946,504.5 950,504.5 952,504.5 954,504 958,504 960,503.5 964,498.5 965,498.5 966,498.5 970,498.5 972,498.5 974,498.5 976,498 978,498 980,498 982,498 986,498.5 988,498.5 990,498.5 994,498.5 996,498.5 998,498.5 1002,498.5 1003,498 1005,498" fill="none" stroke="#B090E0" stroke-width="1"/>
<polyline points="20,506 24,506 26,505.5 30,505.5 34,505.5 38,505 40,505 44,505 46,505 48,505 50,505.5 52,505.5 54,505.5 58,505.5 60,506 64,506 68,506 70,506.5 74,506.5 76,507 78,507 82,506 86,506 88,506 92,505 96,504.5 98,504.5 102,504.5 106,504.5 110,505 112,505.5 114,506 116,506 118,506 122,505.5 126,505.5 128,506 132,506 134,505.5 136,505 140,504.5 142,504.5 146,505 150,505 152,505 156,505.5 158,506 162,506.5 166,506 170,506 172,506 174,506 178,506 182,506 184,506 188,505.5 192,505 194,505 196,505.5 200,505 202,504.5 204,504 206,504 208,503.5 212,503.5 214,503 216,503 218,503 222,503 224,503.5 226,503 228,503 232,502.5 236,503.5 240,503.5 244,504 246,503.5 248,503.5 250,503.5 254,503 258,503 260,503 262,503 266,503 268,504 270,503.5 272,503.5 274,503.5 276,504 278,504.5 280,504.5 284,504 286,503.5 290,504 294,504 296,504.5 298,505 300,505 304,504.5 308,504.5 310,504.5 312,504.5 314,504.5 316,504.5 318,504 320,504 324,504 326,504 328,504 332,504 334,504 336,503.5 338,503.5 340,503.5 342,503 346,502.5 348,502.5 350,503 352,503.5 356,503.5 358,503 360,503 362,503 366,503 368,503 372,503 374,503.5 376,503.5 380,503 382,503 386,503.5 390,503 392,503.5 394,503.5 396,503.5 398,504 402,504 404,504 408,503 412,503.5 416,503.5 418,503.5 422,504 424,504 426,504.5 428,504.5 430,504.5 434,504.5 438,505.5 442,505.5 446,506 448,506.5 450,506.5 454,506.5 458,506 460,505.5 464,505 468,505 470,505.5 474,506 478,506 480,506 482,506 484,506 488,506 492,506 494,505.5 496,505.5 500,506 504,505.5 508,506 510,505.5 512,505.5 516,505 518,505 522,505 524,505.5 526,505.5 530,505 532,504.5 534,504.5 536,504 538,504 542,504 544,504 546,504.5 548,504.5 552,505 556,505 560,504 562,504 564,503 568,504 570,504.5 574,504.5 575,504.5 576,504.5 578,504 580,503.5 582,504 584,505 588,504.5 590,504.5 592,504.5 594,504.5 596,505 598,504.5 600,504.5 604,504.5 608,504.5 610,504.5 612,504.5 614,505 616,505 617,505 618,504.5 622,504.5 626,505 630,505.5 634,505 638,504.5 640,504.5 644,504.5 648,504.5 652,505.5 656,505.5 658,505 662,505 666,505.5 668,505.5 672,505 674,505.5 678,505.5 680,505.5 684,506 688,505.5 692,505 696,505 698,505.5 700,506 702,506.5 704,506 706,506 710,506 712,506 716,506 720,506 722,506 724,505.5 726,505.5 730,505.5 732,505.5 736,505.5 738,506 740,506 744,506 746,506 748,505.5 752,505.5 756,505 758,505 760,505 762,505 764,505 768,505 770,505.5 774,506 776,506.5 778,507 782,507 786,507 790,507 794,506.5 798,506 802,506 806,506.5 808,506.5 812,506 814,506.5 818,507 820,507 824,506.5 826,507 830,506.5 832,506.5 834,506.5 838,506.5 842,506.5 844,506 848,505.5 850,505 852,505 854,505 858,505 860,505.5 862,505.5 864,506 868,506.5 870,506.5 874,506.5 878,505 882,506 884,506 888,506.5 890,506 893,505 894,504.5 896,504 900,504.5 904,504.5 908,505 910,505 914,504.5 918,504 922,504.5 924,505 928,504.5 932,504.5 936,505 938,505 942,505 944,505 946,504.5 948,504.5 952,504.5 956,504 958,504 960,504 962,503 965,498.5 966,498.5 968,499 970,499.5 972,500 974,500.5 978,500 982,499.5 984,500 986,499.5 988,499 992,499 996,498.5 998,498.5 1000,498.5 1003,498.5 1005,498.5" fill="none" stroke="#66DD00" stroke-width="1"/>
<polyline points="20,507.5 22,507.5 26,507.5 28,507 30,507 32,507 36,506.5 40,506.5 42,506 44,506 46,506.5 48,506.5 50,506.5 52,506.5 56,506 58,506 62,506 64,506.5 66,506 70,506 74,506.5 78,506.5 80,506.5 82,506 84,505.5 88,506 90,505.5 94,505 96,505 100,505 104,505 108,505.5 110,506 114,506.5 118,506.5 120,507 122,507 124,507 128,507.5 130,507.5 132,507 134,506.5 138,506 142,506 144,506.5 146,506.5 148,507 150,507 154,507 158,507.5 162,508.5 166,508.5 170,508 174,507.5 176,507.5 178,507 180,507 182,507 184,507 186,506 190,505.5 192,505 194,505 196,505.5 200,505.5 202,505.5 206,505 210,505.5 212,506 216,505 220,505 224,505.5 228,505 230,504.5 232,505 236,505.5 240,505.5 244,506 248,505.5 250,505 252,505 254,505 256,505 260,505 262,505.5 264,505.5 266,506 268,505.5 270,505 272,504.5 274,504 276,505 278,505 280,505 284,505 286,504.5 288,504.5 290,504.5 294,505 296,505.5 300,506.5 302,506.5 304,506 308,506 312,505.5 314,505 318,505 320,505.5 322,505.5 326,505 328,505 330,505 332,505 336,504.5 340,504.5 342,505 346,504.5 350,505 354,505 358,505 362,504.5 364,504.5 368,504 372,504 374,504.5 376,505 378,505 380,505 382,505 384,505 388,505.5 390,505.5 392,505.5 394,506 396,506 400,506 402,505.5 404,505.5 408,504 410,504 414,504.5 416,504.5 420,505 424,505.5 428,505 432,505.5 436,506 438,506 440,506 444,506.5 446,506 448,506 450,506 454,505.5 458,505.5 460,505.5 462,505.5 464,505.5 468,505.5 472,505.5 476,505.5 478,505.5 480,506 484,506 488,505.5 490,505.5 494,505 496,505 500,505 504,505 506,504 508,504.5 510,504.5 514,504 516,504 520,504 522,504 526,505.5 528,505 530,504.5 534,504 536,504.5 538,504.5 540,504.5 542,504 546,504 548,503.5 552,504.5 554,504.5 556,504 558,503 560,502.5 562,502 564,502 568,503 572,503.5 575,503.5 576,503.5 578,503.5 580,503 582,504 584,504 586,504 588,504.5 592,504 596,504.5 600,505 604,504.5 606,504 608,503.5 610,504 612,504 616,504 617,504 618,504 620,503.5 622,503.5 624,503.5 628,504 630,504.5 634,504.5 636,504 638,504 642,504 644,504 648,504 650,504.5 654,504.5 656,504.5 660,504 664,504 668,503.5 670,504 672,504 674,504.5 676,505.5 678,505.5 682,506 686,506.5 688,506 690,506 692,506 696,506 700,506.5 704,506.5 706,506 710,505.5 712,505.5 714,506 716,506 718,506 720,505.5 724,505.5 726,505.5 728,505.5 730,505.5 732,505.5 734,505.5 736,505.5 740,506 744,506 748,505.5 750,504.5 754,505 756,505 758,505 760,505 762,505.5 766,505 768,505 770,505.5 774,505.5 776,506 780,506 782,506 786,505.5 788,506 790,506 794,505.5 798,505 802,505 806,505 808,505 812,505 814,505.5 818,506 820,506 824,505.5 828,505.5 832,505 834,505 838,504.5 840,504.5 842,505 844,504 846,503.5 848,504 850,504 854,504 856,504 858,504 860,504 862,504.5 864,505 866,505 870,506 872,506 876,505.5 878,505.5 880,505.5 884,506.5 888,507 890,507 892,506 893,505.5 894,505 896,504.5 898,505 900,505 902,505.5 904,506 908,506 912,506 916,505 920,505 924,505.5 926,505.5 930,505 934,505 938,505.5 940,506 942,506 944,506 946,505.5 948,505 950,505 954,504.5 958,504.5 960,505 964,500 965,499.5 966,499.5 968,500 972,500.5 974,500.5 976,500.5 978,500.5 980,500 984,500.5 988,500 990,500 992,500 996,500.5 998,500.5 1002,500.5 1003,500.5 1005,500.5" fill="none" stroke="#9B8B2B" stroke-width="1"/>
<polyline points="20,508 24,508 26,508 28,508 32,507.5 34,507 36,506 38,506.5 40,506 42,505.5 44,505 46,505 50,505.5 54,505 58,505 60,505 64,505 68,505.5 70,506.5 74,506.5 76,507 78,507 80,506.5 84,506 88,506.5 92,505.5 96,505 100,505 102,505 106,505.5 108,505.5 110,506.5 112,507 116,507.5 120,507.5 124,508 128,508 130,508 132,507.5 136,506.5 140,506 142,506.5 146,507 148,507.5 150,507.5 152,507.5 156,508 160,508.5 164,509 166,508.5 170,508 174,508 178,507.5 182,507.5 186,507 188,506.5 190,506.5 192,506 194,506.5 196,506.5 198,506.5 200,506.5 202,506 206,505.5 208,505.5 210,505.5 212,505.5 216,505 220,505 224,505.5 226,505 230,504.5 232,504.5 234,505 236,505 238,505.5 242,506 244,505.5 248,505.5 250,505 254,505 256,504.5 260,504.5 264,504.5 266,504.5 270,504.5 274,504 276,505.5 278,506 280,506 284,505.5 286,505 288,505 290,505 292,505.5 294,505.5 298,506 300,506.5 302,507 304,507 308,506.5 310,506.5 312,506.5 314,506.5 318,506 320,506 324,506 326,506 330,505.5 334,505.5 336,504.5 338,504.5 340,504.5 342,504.5 344,504.5 348,504 350,504.5 352,504 356,504 358,504 360,504 364,504 366,503.5 370,503.5 374,505 376,505 380,505.5 382,506 386,506.5 390,506.5 392,506.5 394,507 398,506.5 402,506.5 406,505.5 410,504.5 412,505 414,505.5 416,505 420,505.5 422,506 426,506 428,505.5 430,505.5 434,506 436,506 440,506.5 444,507 446,507 450,507 454,507.5 456,507 458,506.5 460,506.5 462,507 464,506.5 468,506.5 470,507 472,507.5 476,508 478,508 482,507.5 484,507.5 486,507.5 488,507 490,507 492,506.5 494,506.5 496,506.5 498,506.5 500,507 502,507 504,506.5 506,506 508,506 510,507 512,507 514,506 516,506 518,506 522,506 524,506.5 526,507.5 528,507 530,506 532,506 536,505.5 538,505.5 542,505.5 546,505.5 550,506 552,506.5 556,506 558,505.5 562,504.5 564,504 566,504.5 568,505 570,505.5 574,506 575,506 576,506 578,506 580,505 582,506 584,506 588,506 590,506 592,506 596,506.5 598,506.5 602,506.5 604,506 606,506 610,506 614,506.5 616,506.5 617,506 618,506 622,506.5 624,506.5 626,507 628,507.5 630,507.5 632,507.5 636,506.5 638,506 640,506 644,506 648,506 652,507 654,507 656,507 660,507 662,507 664,507 666,506.5 668,506.5 672,506 676,506.5 678,507 682,507 684,507.5 688,507 692,506.5 694,506 698,507 700,507 702,507 704,507 706,507 710,506.5 712,507 714,507 718,507 720,507 724,506 726,506.5 728,506.5 730,506.5 732,506.5 734,506.5 736,506.5 738,506 740,506.5 744,507 746,507 748,506 752,505.5 756,505.5 758,505.5 760,506 762,506 764,506 766,506.5 770,507 774,507.5 778,508 780,508.5 782,508.5 784,508.5 788,508.5 792,508 796,508 800,507.5 802,507 806,507 810,507 814,507 816,507 818,507 822,507 824,507 828,506.5 830,506 832,506.5 834,506.5 836,506.5 838,506.5 842,506 844,505 848,505 852,505 854,505 858,505 862,505.5 864,506 866,506.5 870,507 874,506 876,506 878,505.5 882,506 886,507 890,506.5 893,505 894,504.5 896,504.5 898,505 900,505 904,505.5 906,506 908,506 912,506 914,506 916,505.5 920,506 922,506 924,506.5 926,506.5 928,506 930,505 934,505.5 936,506 938,506 940,506.5 942,506 944,506 946,506 950,505.5 954,505.5 956,505 958,505 962,504 964,500 965,499.5 968,499.5 970,500 974,500 976,499.5 980,499 982,499 984,500 986,500 988,499 990,499 994,499.5 996,499.5 1000,499.5 1003,499.5 1005,499.5" fill="none" stroke="#E06020" stroke-width="1"/>
<polyline points="20,509 22,509.5 24,509.5 26,509.5 30,508.5 32,508.5 36,507 38,507.5 40,507.5 44,506 46,506.5 48,507.5 52,507 56,507 58,507.5 62,508 66,508 68,508 70,508.5 72,508.5 76,508.5 80,508.5 84,508 86,508.5 88,508.5 92,507 94,507 96,507 100,507 104,507 106,508 108,508 110,508.5 112,508.5 116,508.5 118,508.5 120,509 122,509 126,509.5 128,509.5 132,509 134,508.5 138,507.5 142,508 144,508 146,508.5 148,508.5 152,508.5 154,508.5 156,509 158,509.5 160,510 164,510.5 166,510 168,509.5 172,509.5 174,509.5 176,509 178,509 180,509 182,508.5 186,508 188,508 192,508 196,508 198,508 200,507.5 202,507.5 204,507 208,507 210,507 214,506.5 216,506 220,505.5 222,506 224,506 226,506 228,505.5 230,505 232,505 236,506 238,506 240,506.5 244,507 246,506.5 248,506.5 250,506.5 252,506.5 254,506 256,506 258,506 262,506 264,506 266,506.5 270,506.5 272,506 276,507 278,507 282,507 284,506.5 288,506.5 292,506.5 296,507.5 300,508 302,508.5 306,508 310,507.5 314,507.5 316,507 318,507.5 320,507.5 322,508 326,508 328,508 332,508 334,507.5 338,507 340,506.5 342,506.5 346,506.5 350,506 352,506.5 356,506 358,506 362,506 364,505.5 368,505 370,505 372,505.5 376,506.5 378,506.5 382,506.5 386,507 388,507 390,507 394,507.5 396,507.5 398,507.5 400,507.5 404,506.5 406,505.5 408,505 412,505.5 414,505.5 416,505.5 420,506.5 422,506.5 424,507 426,507 428,507 430,507 432,507 436,507 438,507.5 442,508 444,508 448,508 450,508 454,508 458,507.5 462,507 464,506.5 466,506.5 468,507 472,507.5 474,507.5 478,507.5 482,508 484,508 486,507.5 490,507.5 492,507 494,506.5 496,506.5 498,506.5 502,507 506,505.5 510,506 512,506 516,505.5 520,505.5 524,506 526,507 530,506 532,505.5 534,505 538,505.5 540,505.5 544,505.5 546,505.5 550,506 554,506.5 558,505.5 560,505 564,504 566,504.5 568,506 570,506.5 572,506.5 575,507 576,507 580,506.5 582,507 584,507.5 586,507.5 590,507 592,507 596,507.5 598,507.5 602,507 606,506.5 610,506 612,506.5 616,506.5 617,507 618,507 620,507.5 622,507.5 626,508 628,508.5 630,508.5 632,508 636,507 640,506.5 642,506.5 644,506.5 648,506.5 650,506.5 652,507 654,507.5 656,507 658,507 660,507 662,507 666,506.5 668,506.5 670,506.5 672,507 674,507 678,507.5 680,508 684,508 686,508 688,508 690,507.5 692,507.5 694,507 698,508.5 702,508.5 704,508.5 708,508 712,508 714,507.5 716,507.5 718,508 720,507.5 724,506.5 726,507 728,507.5 730,507.5 734,507.5 736,507 738,507 740,507 742,507 744,507.5 746,507 750,506 752,506 754,506.5 756,506.5 758,506 760,506 764,507 766,507 770,507.5 772,507.5 774,507.5 776,508 778,508 780,508.5 782,508.5 786,508 788,508 792,508.5 796,508 798,507.5 802,507 806,507 810,506.5 812,506.5 816,506.5 818,507 822,507 826,506 830,506 834,506 836,505.5 840,505.5 842,506.5 844,505.5 846,505 848,505.5 850,506 852,506 856,506 860,506.5 862,507 866,507.5 868,508 870,508.5 874,508 878,507 882,508.5 886,509.5 890,509 893,507.5 894,507 896,507 898,507.5 900,508 904,508 906,508 910,508.5 912,508.5 916,507.5 918,507 920,507.5 922,507.5 926,508 928,507 930,506.5 932,507 934,507 936,507 938,507 942,507 944,507 948,506.5 952,506.5 954,506 958,506 962,504.5 965,500.5 966,500.5 968,501 970,501 974,501.5 978,501.5 982,501 984,501 988,500.5 990,500.5 992,500.5 994,501 998,501 1000,501 1002,501 1003,501 1005,501" fill="none" stroke="#000070" stroke-width="1"/>
<polyline points="20,510.5 22,510.5 26,510.5 28,510 32,509.5 36,508.5 38,509 40,509 42,507.5 46,508 48,508 50,508.5 54,508 56,508.5 58,508.5 60,508.5 64,509 66,509 70,510 72,510 74,510.5 78,510.5 82,509.5 84,509 88,509 92,508 94,507.5 96,507.5 98,507.5 102,507.5 104,507.5 106,507.5 108,508 112,509 114,509.5 116,510 118,509.5 122,510 126,510 128,510.5 130,510.5 132,510 136,508.5 138,508 140,507.5 142,508 144,508.5 148,509 150,509 152,509 154,509 156,509.5 160,511 164,511 168,510 170,510 172,510 176,510 180,509.5 184,509 186,509 188,509 192,508.5 194,509 198,509.5 202,508 204,507.5 208,507.5 212,508 216,506.5 220,507 222,507.5 226,507 228,506.5 230,506 232,506.5 234,506 238,506.5 242,507.5 244,507.5 246,507.5 250,507 252,506.5 254,507 256,507 258,507 260,507 262,507.5 264,508 266,508 268,508 272,507.5 276,508.5 278,508.5 282,508 284,507.5 286,506.5 288,507 292,507 294,507 296,507.5 298,507.5 300,508 304,508 306,507 310,506.5 312,506.5 316,506.5 320,507 324,507 326,507 330,507 332,507.5 336,507 340,506 342,506 346,505.5 348,505.5 352,506 354,506 356,505.5 358,505.5 362,505.5 364,505 366,505 368,504.5 372,505 376,506.5 380,507.5 384,507.5 388,508 392,508.5 394,508.5 396,509 400,509 404,508.5 406,507.5 408,507 410,507 412,506.5 416,506.5 420,507 422,507 424,508 428,507.5 430,507.5 434,508 436,508 438,508.5 442,509 444,510 446,510 450,510 452,510 456,510 458,510 462,509.5 464,508.5 466,508 468,508.5 472,509 476,509 478,509 482,509 486,509 488,508.5 492,508.5 494,508.5 496,508.5 498,508 502,508.5 504,508 508,507.5 510,507.5 512,508 514,507.5 518,507.5 522,507.5 526,509 530,508 532,507.5 534,506.5 538,506.5 542,506.5 544,506 548,506 552,507.5 554,508 556,507 558,506.5 562,505 566,505.5 570,507.5 572,507.5 575,507.5 576,507.5 580,507 582,507.5 586,507.5 588,507.5 590,507.5 592,507 594,507 596,507.5 598,507.5 600,508 604,506.5 606,506.5 610,506.5 614,507 616,507 617,507 618,507 620,507.5 622,507.5 624,508 626,508.5 630,509 632,508.5 634,508.5 636,508 640,507.5 644,507.5 648,507.5 652,508.5 656,508.5 658,508.5 660,508.5 664,508 666,508 670,507.5 672,507.5 676,508.5 678,508.5 682,509 684,509 686,509 688,508.5 690,508.5 694,508 696,508.5 700,509.5 702,509 704,509 706,508.5 708,508 710,507.5 712,507.5 714,507.5 716,507.5 718,507.5 720,507 722,507 724,506.5 726,507 728,507 730,507.5 732,507.5 734,507.5 738,507 742,507.5 746,507.5 748,506.5 752,505.5 754,505.5 756,506 760,506.5 764,506.5 766,506.5 770,507.5 772,508 774,508.5 778,509 782,509.5 784,510 786,510 788,509.5 790,509.5 792,509 794,509 798,508.5 800,508 804,508 808,507.5 812,507.5 814,508 818,508 820,508 822,508.5 826,508 828,508 832,508 834,508 836,508 838,508 840,508 842,508 844,507 848,506.5 850,507 852,507 854,506.5 858,506 862,507 864,507.5 866,507.5 870,508.5 872,508.5 876,507.5 880,507.5 882,508.5 886,509.5 888,509.5 892,508 893,506.5 894,506 896,505.5 900,507 904,508 906,508 908,508.5 912,508 914,507.5 918,506.5 920,507 922,507 924,507.5 926,507.5 928,507 930,506.5 934,507.5 936,508 938,508.5 942,508.5 946,508.5 950,508 954,507.5 958,507 960,507 964,503 965,501.5 968,502.5 970,503 974,503.5 976,503 978,502.5 980,502 984,502.5 986,502.5 988,502 990,501.5 992,501.5 994,502 996,502 998,502 1002,502 1003,502 1005,502" fill="none" stroke="#E8532A" stroke-width="1"/>
<polyline points="20,512 22,512 24,512.5 28,511.5 30,511 34,511 36,510 40,510.5 44,509 46,510 48,510.5 50,510 52,509.5 54,510 56,509.5 58,509.5 62,509.5 66,509.5 68,510.5 72,511 76,511.5 78,511.5 80,511 82,510.5 86,510.5 88,510.5 90,509.5 94,508.5 96,508.5 98,508.5 100,508.5 102,508.5 104,508.5 106,509 108,509.5 112,511 116,511.5 120,512 124,512 126,512 128,512 130,511.5 134,510 136,509.5 140,508 144,509 148,510 150,510 152,510 154,510.5 156,510.5 158,511.5 160,512 164,512.5 166,511.5 168,511 170,511 172,510.5 176,510 180,510 184,509.5 186,509.5 188,509 190,508.5 194,508.5 196,508.5 200,508 204,507.5 206,507.5 208,507.5 212,508 214,507.5 218,506.5 222,507 226,507 228,506 230,506 234,506.5 236,506.5 238,507 240,507.5 242,507.5 244,508 246,508 250,508 254,508 258,508 262,508 264,507.5 266,508 268,507.5 270,507.5 272,507.5 274,507 278,509 280,509 282,509 284,508 288,507.5 290,507.5 292,508 294,508.5 296,509 300,510.5 302,510.5 304,510.5 306,510 308,510 312,509.5 316,509 318,509 322,509 324,509 326,509 328,509 332,509 336,508.5 340,508 342,508 346,507.5 350,507.5 352,507.5 356,507 358,507 362,506.5 364,506.5 368,505.5 370,506 374,508 376,508.5 378,508.5 380,509 382,509 386,509.5 390,510 392,510 394,510.5 398,510 402,510 404,509.5 406,508 410,507.5 412,507.5 414,507 416,507 418,507.5 422,508 426,508.5 428,508.5 432,508.5 436,509.5 438,510 440,510 444,511 448,511 450,511 452,511 454,511 456,511 458,511 462,510.5 464,510 466,509.5 468,510 470,510 474,511 476,511 478,511 482,511 484,510.5 486,510.5 490,510 492,510 494,510.5 496,510.5 500,510 502,510.5 506,509 508,509.5 512,509.5 516,508.5 520,509 522,508 526,510 528,509.5 530,509 534,508 536,508.5 538,508.5 540,508.5 544,508 546,508 548,507.5 552,509 556,508.5 560,506 562,505 566,505.5 570,507.5 572,508 574,508 575,508 576,508.5 578,508 580,507 582,508 584,508.5 588,508 590,507.5 592,508 596,508.5 598,508.5 602,508.5 606,508 608,507.5 610,507.5 614,508 616,508 617,508 618,508.5 622,509 624,509 626,509.5 630,510 634,509 636,508.5 638,508 640,508.5 642,508.5 646,508.5 650,509 652,509 656,509 660,508.5 662,509 664,508.5 666,508.5 668,508.5 670,508 672,508 674,508.5 676,508.5 680,509.5 682,509.5 684,510 688,509.5 692,509 694,508.5 698,510 702,509.5 704,509.5 706,509.5 710,508.5 712,508.5 716,508.5 718,508.5 720,508 722,507.5 726,507.5 728,507.5 732,508.5 736,508 740,508.5 744,509 746,508.5 748,508 750,507 752,507 754,507 758,507.5 762,508 764,508 768,508 770,508.5 774,509.5 778,510 782,510 784,510 786,510 790,509.5 794,509 798,508.5 802,508 804,508 806,508 810,507.5 812,507.5 816,508.5 818,508.5 820,509 824,509 828,508 832,508.5 834,508.5 836,509 840,509 844,507.5 848,507 850,507 852,507.5 854,507 856,507 858,507.5 860,507 864,508.5 866,509 868,509.5 870,510.5 872,510 876,509 878,508 882,509.5 886,511 890,510.5 893,508 894,507.5 898,507.5 900,508.5 902,509.5 904,510 908,510.5 912,510.5 914,510 918,509 920,509.5 922,510 924,510.5 928,509.5 930,509 934,509.5 936,510 940,510.5 942,510.5 944,510 946,510 950,509.5 952,509.5 954,509 958,508.5 962,508 965,503.5 966,503 970,504 972,504.5 974,504.5 976,504 978,503.5 980,503.5 982,503 984,504 986,504 988,503.5 990,503 992,503.5 994,503.5 998,503.5 1002,504 1003,504 1005,504" fill="none" stroke="#CC2244" stroke-width="1"/>
<polyline points="20,513 22,513 24,513.5 28,512.5 32,511.5 34,511 38,511 40,510.5 44,509 48,510 52,509.5 56,509.5 58,509.5 62,509.5 64,509.5 66,509.5 70,511 74,511.5 76,512 78,511.5 82,511 84,510.5 86,511 88,510.5 92,509 94,508.5 96,508.5 100,508 104,508.5 106,509 110,510 112,511 116,512 120,512.5 124,512.5 128,513 130,512.5 132,512 134,511 138,509 142,509.5 146,510.5 150,511 154,511 156,511.5 158,512.5 162,514 164,513.5 168,512.5 170,512 174,511.5 178,511 182,511.5 186,511 190,510.5 192,510 194,510.5 196,510.5 198,511 200,510.5 204,509.5 208,509 210,509 214,509 216,508.5 218,509 222,509.5 224,509.5 228,508.5 232,508 234,508 238,508.5 242,509.5 246,510 248,510 250,509.5 254,509 258,509.5 262,510 264,510 268,511 270,510 272,510 276,511 278,511.5 280,511.5 282,511 286,509 290,509.5 294,510 298,511.5 300,512.5 304,512 306,511.5 310,510 312,510 314,510 316,510 320,510 324,510 328,509.5 330,509.5 334,509 336,509 338,508.5 340,508.5 342,508.5 344,508 346,508 348,507.5 350,507.5 352,507.5 354,507.5 358,507.5 362,507 366,507 368,506.5 372,507 376,508.5 380,509 382,510 386,510 388,510.5 390,510.5 392,510.5 394,511 396,511.5 400,511.5 402,510.5 404,510 406,508.5 408,508 410,508 412,508 414,508 418,508.5 420,509 422,509.5 424,510 426,509.5 428,509.5 430,509.5 434,510 436,510.5 438,510.5 440,511 444,511.5 446,511.5 448,511.5 452,512 454,512 456,512 460,511.5 464,510.5 466,510 468,510 470,510.5 472,510.5 474,511 476,511.5 480,511.5 482,511 484,511 486,510.5 488,510.5 490,509.5 494,509.5 496,509.5 498,509.5 500,510 502,510 506,509.5 508,509.5 512,509.5 516,509 520,509 524,510 528,510.5 530,510 534,509 536,509 540,509.5 544,508.5 546,508.5 548,508 550,509 554,509.5 558,508 560,507 562,506 566,506.5 568,508 570,509 574,509.5 575,509.5 576,509.5 578,509.5 582,510 584,510.5 586,510 588,510 590,509.5 592,509 596,509 598,509.5 602,509 604,508.5 608,508 612,508.5 614,509 616,509 617,509 618,509 620,508.5 622,509 626,509.5 630,510.5 632,510 636,509 638,508.5 640,508.5 642,508 646,508 648,508 652,509.5 654,510 656,509.5 660,509 664,508.5 668,509 670,509 672,509 674,509 676,509 680,509.5 682,510.5 686,511 688,510.5 690,510.5 692,510 696,510 700,511 702,511.5 704,511 708,510.5 710,510.5 712,510.5 716,511 720,510.5 722,509.5 726,509.5 728,509 730,509.5 732,509.5 734,509 738,509 742,510 744,510 746,510 750,508 754,509 758,508.5 760,509.5 762,509.5 766,510 768,510 770,511 772,511.5 774,512 778,513 782,513 784,512.5 786,512.5 788,512.5 792,512 796,511.5 798,511.5 800,511 804,510.5 806,510.5 808,510.5 810,510 812,509.5 814,510 816,510 818,510.5 822,511 824,510.5 826,510 830,509.5 832,509.5 834,509.5 836,509.5 838,509 840,509 842,509.5 844,507.5 846,507.5 848,508 850,508.5 854,508.5 858,508.5 860,508.5 862,509.5 866,510.5 868,511 870,511.5 874,510.5 876,510 878,509.5 880,510.5 884,511.5 888,512.5 892,510 893,509.5 894,508.5 898,508.5 900,509 904,510 906,510 908,510 910,510 914,509.5 918,508.5 922,509 924,509.5 926,509.5 930,509 934,509.5 936,510 938,510 942,510 946,509.5 950,509 952,509 954,508.5 956,508.5 958,508.5 960,508.5 964,504.5 965,503.5 968,504 970,504.5 974,505 978,504 980,503.5 982,503 986,504.5 988,503.5 990,503.5 992,503.5 996,504 998,504 1000,503.5 1002,504 1003,504 1005,504" fill="none" stroke="#D26020" stroke-width="1"/>
<polyline points="20,514 22,514.5 24,515 26,514.5 28,514 30,513.5 32,513 36,511.5 40,511.5 44,510 48,511 50,511 54,510.5 56,510 60,510.5 62,510.5 64,510.5 68,511.5 72,512.5 74,512.5 76,512.5 78,513 80,513 82,512.5 86,512.5 90,511.5 92,511 94,510.5 98,511 100,510.5 102,510 104,510.5 106,511 110,512 112,513 116,513.5 118,513.5 120,514 124,514.5 126,514.5 128,514.5 132,513 136,511.5 138,510.5 140,510 142,510.5 144,510.5 146,511 150,511.5 154,511.5 156,512.5 158,513.5 160,514 164,514.5 166,513.5 170,513 172,512.5 174,513 176,512.5 178,512.5 180,512 182,512 184,512 186,511.5 190,510.5 194,510.5 196,511 200,510.5 202,510 204,509.5 208,509.5 212,509.5 214,509 218,508 220,508.5 224,509.5 226,508.5 228,508 230,507.5 234,508 238,508 240,508.5 244,509.5 246,509.5 248,509 250,509 254,508.5 256,508 258,508.5 260,508.5 262,509 264,509 268,509.5 272,508.5 274,508 276,510 278,511 280,511 284,510 286,509 290,509.5 294,510.5 296,511 300,512.5 304,512 308,511 312,510.5 314,510.5 316,510 318,510.5 320,510.5 324,510.5 326,510.5 330,511 332,510 334,510 338,509.5 340,509 342,509 344,509 346,508 348,508 352,508.5 356,508.5 360,508.5 362,508 364,508 366,507.5 370,507.5 374,509.5 376,510 378,510 380,510.5 382,510.5 386,511 388,511.5 390,511.5 392,511.5 394,512.5 396,512.5 398,513 402,512.5 404,512 406,510.5 410,509.5 412,509.5 414,508.5 418,509 420,509.5 424,510.5 426,510 430,509.5 432,510.5 434,510.5 436,511 438,511.5 440,512 442,512.5 446,513 448,513.5 450,513.5 454,513.5 456,513.5 460,513 464,512 466,511.5 468,512 472,513 474,513 478,513 480,513 482,512.5 484,512.5 486,512 488,512 492,511 494,511 496,510.5 500,510.5 502,510.5 506,509.5 510,510 512,510 514,510 516,509.5 518,509 520,509 524,510 526,511.5 530,509.5 534,508.5 538,508.5 542,508.5 546,508.5 550,509 552,510 554,510 558,508.5 562,506 564,505 568,507.5 570,508.5 572,509 574,509 575,509 576,509 578,508.5 582,509.5 584,510 588,509.5 590,509.5 592,509.5 594,510 598,510.5 600,511 602,510.5 606,509.5 608,509 610,509 612,509.5 614,510 616,510.5 617,510.5 618,510.5 620,510.5 624,511 626,511.5 628,512 632,512 634,512 636,511.5 638,511 642,510.5 646,510.5 648,510.5 650,511 654,512 658,511.5 660,511 662,511 666,511 668,511 670,511 672,510 674,510.5 678,511.5 680,511 684,512 688,511 692,510 696,510 698,511 702,511 704,511 706,511 708,511 710,510.5 712,510.5 716,511 720,510.5 722,510.5 726,510.5 728,510.5 732,511 734,510.5 738,510.5 742,511 746,511.5 748,510.5 752,509.5 754,510 758,510 760,510 762,510.5 764,510 766,510.5 768,510.5 770,511.5 772,512 774,512.5 776,513 778,513.5 780,514 782,514 784,513.5 786,513.5 790,513.5 792,513 796,512 798,511.5 800,511 802,511 806,510.5 808,510 810,510 812,509.5 816,510.5 818,511 822,511 824,510.5 828,509.5 830,509 834,509.5 838,509.5 842,510 844,508 848,508 852,508.5 856,508.5 860,509 862,510 864,511 866,511.5 868,512.5 872,513 874,512.5 876,512 878,511 880,512 884,513.5 886,514 888,514.5 892,512 893,511.5 894,510.5 896,510 898,511 902,512.5 904,513 906,513 910,513 912,513 914,512.5 916,511 918,510.5 922,511.5 924,512.5 926,512.5 930,511 932,511.5 934,512 938,512.5 940,512.5 944,512 946,511.5 950,511 952,510.5 954,510.5 958,510 960,509.5 964,506 965,505 968,505.5 972,506.5 976,506.5 978,506 980,505 984,506 986,506 988,505 990,505 994,505.5 996,505.5 998,505.5 1000,505.5 1002,505.5 1003,505.5 1005,505.5" fill="none" stroke="#8B7D2B" stroke-width="1"/>
<polyline points="20,500 24,500.5 26,500.5 28,500.5 32,500 34,500 36,500 38,500 42,500 46,500 48,500 50,500 52,499.5 54,499.5 56,499 58,499 60,499 62,499 64,499 68,498.5 70,499 74,498.5 78,498.5 80,498.5 82,497.5 86,496 88,495.5 92,496 94,496 96,496 98,496 100,496 104,496.5 106,496.5 110,497 114,497.5 116,497.5 118,497.5 122,498 124,498.5 126,498.5 130,499 132,499 136,499 138,499.5 140,499.5 142,499.5 144,499.5 146,500 150,500.5 152,500.5 156,500 158,500 160,500 162,500 164,500.5 166,500 168,500 170,500 172,500 176,500.5 180,500.5 182,499.5 186,498.5 188,497.5 192,496 194,496 196,496 200,495.5 202,495.5 204,495.5 206,495 210,494.5 214,494.5 218,493.5 220,493.5 224,493 226,493.5 230,494.5 232,494.5 236,496 238,496.5 242,497 244,497 246,497 248,497 250,497 254,497 256,497.5 258,497.5 262,497.5 264,498 266,497.5 268,497.5 270,498 272,497.5 274,497.5 276,497.5 278,497.5 282,497.5 284,497 288,496.5 290,496.5 292,496.5 296,496 298,496 302,495.5 304,496 308,496 310,496 312,496.5 316,496.5 318,496.5 320,497 322,497 326,497.5 330,497.5 334,498 338,498 340,498.5 342,497.5 346,495.5 348,495 350,494.5 352,494.5 354,494 358,493.5 360,493 362,493 364,493.5 368,493.5 370,493.5 372,494 374,494 376,494.5 378,495 380,495.5 384,496 386,496 388,496.5 392,496.5 394,496.5 396,497 400,497 404,497 408,496.5 410,496.5 412,496.5 416,496 418,496 420,496 422,496 424,496 428,496.5 430,496.5 432,497 434,497 436,497 438,497.5 440,497.5 442,497.5 444,497.5 446,497.5 450,498 452,498 454,498 456,498 458,498 460,498 462,498 466,498.5 468,498.5 472,498.5 474,498.5 478,498.5 482,499 486,499 488,498.5 490,498.5 492,498.5 496,499 498,499 502,499 504,499 506,499 510,499 512,499 514,499 518,498.5 520,498.5 522,498.5 526,498 528,497.5 532,497.5 534,497.5 538,497.5 540,498 542,498 544,498 548,498 552,497.5 556,497 560,496.5 564,497.5 566,497.5 570,498.5 574,497 575,496.5 576,496 580,495.5 582,495 584,494.5 588,494.5 592,494.5 594,494.5 596,494.5 600,494.5 602,494.5 604,494.5 606,494 608,494 610,494 612,495.5 614,496.5 616,497.5 617,498 618,498.5 622,499 624,499 628,499.5 630,500 632,500 634,500 636,500.5 640,501 644,500 646,499.5 648,499 650,498.5 652,499 654,499 656,499.5 658,499.5 660,500 662,500 666,500.5 668,501 670,498.5 672,496 676,495.5 680,494.5 682,494 686,493.5 690,492.5 692,492 694,492 696,492 698,492 700,491.5 704,491.5 708,491.5 712,491 714,491.5 716,491.5 718,491.5 722,491 726,491 730,491 732,491 734,491 736,491 740,491 742,491 744,491 746,491 748,491 750,491 754,491.5 758,491.5 762,491.5 764,492 768,494 770,496 772,498 774,500 776,501 778,500 780,499 782,498.5 786,497 790,497 794,497 796,497 800,497 802,497 806,497 808,497 810,497 814,493.5 816,492.5 820,492.5 822,492.5 826,493.5 830,496.5 832,496 834,496 838,496 840,496 844,495.5 848,495.5 852,494.5 854,493.5 856,492 858,491 860,491.5 862,492 864,492 866,493.5 870,499 874,499 878,499.5 882,500 884,500 886,500 888,500 890,500 893,490.5 894,490 896,490.5 900,490.5 902,490.5 906,491 908,491 910,491.5 912,491.5 916,492 918,492 920,492 924,495 928,495 930,494.5 932,494 934,493.5 938,492.5 940,492 942,492 944,492.5 948,493 950,493 954,493.5 956,493.5 958,493.5 960,493.5 962,493.5 965,493.5 966,493 970,493 972,492.5 974,492.5 976,492.5 978,492 980,491.5 984,491.5 988,496.5 990,496.5 994,496.5 998,496.5 1000,496.5 1003,496.5 1005,496.5" fill="none" stroke="#E8532A" stroke-width="1"/>
<polyline points="20,501.5 24,501.5 26,501 28,501 30,501 32,501.5 34,501.5 38,501.5 40,502 42,502 44,502 46,502 48,501.5 52,501.5 54,501 56,501 60,501 62,501 64,501 66,500.5 70,500.5 72,500 74,500 78,500 80,499.5 82,499 86,498 88,497.5 90,497.5 92,498 96,498 100,498 104,498.5 108,499 110,499 112,499.5 116,499.5 120,500 124,500.5 128,500.5 130,500.5 132,501 136,501 138,501 140,501.5 144,501.5 148,501.5 150,501.5 154,501.5 156,501 158,501 160,501 162,501 164,501 166,501 170,501.5 172,501.5 174,501.5 176,501.5 178,501.5 182,501 184,500 186,499.5 188,499 190,498.5 194,498 196,497.5 200,497.5 202,497 206,496.5 210,496.5 212,496 214,496 216,496 218,495.5 222,495.5 226,495 228,495.5 230,496 234,496.5 238,497 240,497.5 244,498 246,498 248,498 252,498.5 254,499 256,499 258,499 260,499 264,499.5 266,499.5 268,499.5 270,499.5 274,499.5 276,499.5 280,499.5 284,499.5 288,499 290,499 292,499 296,498.5 298,498.5 300,498.5 302,498.5 304,498.5 308,498.5 310,498.5 312,498.5 314,498.5 316,499 320,499 324,499 328,499.5 330,499.5 334,499.5 336,500 340,500 342,499 344,498 346,497.5 348,497.5 350,497 352,497 354,496.5 356,496 358,496 362,495.5 366,495.5 370,495.5 372,496 376,496.5 378,497 380,497 384,498 388,498 392,498.5 396,498.5 400,499 402,499 404,499 406,499 410,499 412,499 414,498.5 416,498.5 420,498.5 424,498.5 428,499 430,499 432,499 436,499 440,499.5 444,499 446,499 450,499.5 452,499 454,499.5 456,499.5 458,499.5 462,500 464,500 466,500 468,500 472,500.5 474,500.5 478,500.5 482,500.5 486,500 488,500 490,500 494,500 496,500 498,500 500,500 504,500 508,500 510,500 512,500 514,500 516,500 520,499.5 522,499.5 524,499.5 528,498.5 530,498.5 534,498.5 538,498.5 542,498.5 546,498.5 550,498.5 552,498.5 554,498 558,498 560,497.5 562,498 566,498.5 568,499 572,498.5 575,497.5 576,497.5 578,497 582,496 584,495.5 586,495.5 588,495.5 592,495.5 596,495.5 600,495.5 602,495.5 604,496 608,496 610,496 612,496.5 614,497.5 616,498 617,499 618,499 620,499.5 624,500 626,500 628,500.5 632,501 634,501 638,501 642,501 644,500.5 646,499.5 650,499 654,499.5 656,500 658,500 660,500.5 664,501 666,501 670,499.5 672,497.5 674,497 678,496.5 680,496.5 682,496 686,495.5 688,495.5 690,495 692,495 694,495 698,495 702,494.5 704,494.5 706,494 708,494 710,494 714,494.5 716,494.5 718,494.5 720,494.5 722,494.5 726,494.5 728,494.5 730,494.5 734,494.5 738,494.5 740,494.5 744,494.5 748,494.5 752,494.5 754,494.5 756,494.5 760,494.5 764,494.5 766,494.5 770,497.5 772,499 774,500.5 778,500.5 780,499.5 782,499 786,498 790,498 792,498 794,498 798,498 800,498 804,498 806,498 808,498 810,498.5 812,497.5 814,496 816,495.5 818,495.5 820,495.5 822,495.5 824,495.5 826,496.5 830,498.5 834,498 838,498 840,497.5 842,497.5 846,497.5 848,497 850,497 854,495.5 858,494 860,494.5 864,495 866,496 870,499.5 872,499.5 876,499.5 878,499.5 882,500 886,500.5 888,500.5 890,500.5 892,495.5 893,493.5 894,493.5 898,494 902,494 904,494.5 908,494.5 910,494.5 914,494.5 916,494.5 920,495 924,497 926,497.5 928,497 930,496.5 934,495.5 936,495.5 938,495 940,494.5 942,495 946,495 950,495.5 954,495.5 956,496 958,495.5 960,496 962,496 964,495.5 965,495.5 966,495.5 970,495 972,495 974,495 978,494.5 980,494.5 982,494.5 986,495.5 988,498 990,498 992,498 994,498 996,498 1000,498 1002,498 1003,498 1005,498" fill="none" stroke="#7A4A30" stroke-width="1"/>
<polyline points="20,501.5 24,501.5 26,501.5 30,502 32,502 36,502.5 40,502.5 44,502.5 46,502.5 48,502.5 52,502.5 54,502.5 56,502.5 60,502 62,501.5 66,501.5 68,501.5 70,501 74,501 76,501.5 80,501 84,500.5 86,500 88,499.5 90,499.5 94,499.5 96,499.5 100,500 104,500 108,500 112,500.5 116,500.5 120,501 124,501 126,501.5 130,501.5 132,501.5 136,501.5 140,501.5 142,501.5 146,502 148,502 152,502 154,502 156,502 158,502 160,502 162,502 164,502 166,502 168,502 172,502 174,502 176,502 180,502 182,501.5 186,500.5 188,500 192,499.5 196,499 200,498.5 204,498.5 208,498.5 210,498 212,498.5 214,498 216,498 218,498 220,498 224,497.5 226,497.5 228,498 230,498.5 232,498.5 234,499 238,499 242,499.5 244,499.5 248,500 250,500 252,500 254,500.5 258,500.5 260,500.5 262,500.5 266,500.5 270,500.5 272,500.5 274,501 278,501 280,501 282,500.5 284,501 286,500.5 288,500.5 292,500.5 296,500.5 300,500.5 302,500.5 306,500.5 310,501 314,501 318,501.5 322,501.5 324,501 328,501.5 332,501.5 334,501.5 338,501.5 340,501.5 342,501 344,500.5 348,500 350,499.5 352,499.5 354,499 356,499 358,499 360,498.5 362,498.5 364,498.5 366,498.5 370,498.5 372,498.5 376,499 380,499.5 384,499.5 388,500 392,500 394,500 396,500.5 400,500.5 404,500.5 408,500.5 412,500 416,500 420,499.5 424,500 428,500 432,500 436,500 438,500 440,500 444,500.5 446,500.5 448,501 450,501 454,501 456,501.5 458,501.5 460,501.5 464,501.5 468,502 470,502 474,502 476,502 478,502 480,502 482,502 486,502 488,502 492,502 496,502 498,502 500,502 504,502 506,502 508,502.5 510,502.5 512,502 516,501.5 518,501.5 520,501.5 524,501 526,501 530,501 534,501 538,500.5 540,500.5 544,500.5 548,501 552,500.5 556,500.5 558,500 560,500 564,500.5 566,500.5 568,500.5 570,501 572,500.5 575,499.5 576,499.5 578,499 580,499 584,498.5 586,498.5 590,498.5 594,498.5 596,498.5 600,498.5 604,498.5 608,498.5 610,498.5 612,499 614,499.5 616,500 617,500 618,500 622,500.5 624,500.5 628,501 630,501.5 632,501.5 636,501.5 640,502 642,502 644,501.5 648,501 652,500.5 656,501 660,501.5 662,501.5 664,501.5 666,501.5 668,502 672,499.5 674,499 678,499 680,498.5 684,498.5 686,498 690,497.5 692,497.5 694,497.5 696,497.5 698,497.5 700,497 704,497 708,496.5 710,497 714,497 718,496.5 720,496.5 722,496.5 724,496.5 726,496 728,496 732,496 736,496.5 738,496.5 742,496.5 744,496.5 748,497 750,497 752,497 756,497 758,497 762,497 766,497 770,499 772,500 776,501.5 780,500.5 784,500 786,499.5 788,499.5 792,499.5 796,499.5 798,499.5 800,499.5 804,499.5 808,499.5 810,499 812,498.5 814,497.5 816,497 820,497 822,497 824,497 828,498 830,499 834,499 838,498.5 842,498.5 844,498.5 846,498.5 850,498.5 854,497 856,496.5 858,496 862,496.5 864,496.5 868,498.5 870,500 872,500 874,500 876,500 878,500 880,500.5 882,500.5 886,500.5 890,500.5 892,497 893,495 894,495 896,495 898,495.5 902,495.5 904,495.5 906,496 908,496 910,496.5 912,496.5 916,496.5 918,496.5 920,496.5 924,498 926,498 928,498 930,497.5 932,497.5 934,497 938,496.5 940,496.5 942,496.5 944,496.5 948,497 952,497.5 956,497.5 958,497.5 960,498 962,498 965,497.5 966,497.5 970,497.5 972,497.5 976,497 980,497 982,497 986,497.5 988,499.5 990,499 992,499.5 994,499.5 996,499.5 1000,499.5 1003,499.5 1005,499.5" fill="none" stroke="#E06020" stroke-width="1"/>
<polyline points="20,502 22,502 26,502 30,502 34,502 36,502 38,502 40,502 44,502 46,502 48,502 50,502 52,502 54,502 58,502 60,501.5 64,501.5 68,501.5 72,501.5 74,501.5 76,501.5 78,501.5 80,501.5 84,501 86,501 90,500.5 92,500.5 94,500.5 96,500.5 98,500.5 100,500.5 104,501 108,501 110,501.5 112,501.5 114,502 118,502 120,502 124,502.5 128,502.5 130,502.5 132,503 134,503 136,503 138,503 142,503 144,503 146,503.5 150,503 154,503 156,503 158,502.5 162,502.5 164,502.5 166,502.5 170,502.5 172,502.5 176,502.5 178,502.5 180,502.5 182,502 186,502 190,501.5 192,501 194,500.5 198,500.5 202,500 204,500.5 208,500 210,500 214,500 218,499.5 222,499.5 224,499.5 226,499.5 228,499.5 232,500 236,500.5 240,501 242,501 244,501 248,501 250,501 252,501 256,501 260,501 262,501 264,501 266,501 268,501.5 272,501.5 274,501.5 276,501.5 278,501 282,501 286,501 290,501 292,501 294,500.5 296,500.5 300,500.5 302,500.5 306,500.5 308,500.5 312,500.5 314,500.5 316,500.5 320,500.5 322,500.5 326,500.5 328,500.5 330,501 332,501 334,501 336,501.5 338,501.5 340,501.5 344,500.5 346,500.5 348,500.5 350,500.5 354,500 358,500 362,500 364,500 366,500 368,500 370,500 374,500 376,500 380,500.5 382,500.5 384,500.5 388,500.5 392,500.5 396,501 398,501 402,501 404,501 408,501 410,501 412,500.5 414,500.5 418,500.5 420,500 422,500 424,500.5 426,500.5 428,500.5 432,501 434,500.5 438,500.5 440,501 442,501 444,501 446,501 448,501 452,501 456,501 460,501 462,501.5 466,501.5 470,501.5 472,501.5 474,501.5 476,501.5 480,501.5 484,501.5 488,502 490,502 492,502 496,502 498,502 500,502 502,502 504,502 506,502 508,502 510,502 512,502 516,501.5 518,501.5 522,501.5 524,501.5 526,501 530,501.5 534,501.5 536,501 538,501 542,501.5 544,501.5 548,501.5 552,501 554,501.5 556,501 558,500.5 562,501 566,501 570,501.5 574,500.5 575,500.5 576,500.5 578,500.5 580,500.5 584,500 586,500 590,499.5 592,499.5 596,499.5 598,500 600,500 602,500 604,499.5 608,499.5 612,500 614,500.5 616,501 617,501.5 618,501.5 620,502 622,502 626,502 628,502.5 630,502 634,502.5 638,502.5 642,502 644,502 646,502 648,502 652,502 656,502 660,502 664,502 668,502.5 672,500 674,500 676,500 678,500 680,500 684,499.5 686,499.5 688,499.5 690,499.5 692,499 694,499 696,499 698,499 700,499 702,499 704,499 706,499 708,499 710,498.5 714,498.5 716,498.5 718,498.5 720,498.5 722,498.5 726,498.5 728,498.5 732,498.5 734,498.5 736,498.5 738,498.5 740,498.5 742,498.5 744,498.5 746,498.5 750,498.5 754,498.5 756,498.5 758,498.5 762,498.5 764,498.5 768,499.5 770,500 774,501.5 778,501.5 780,501.5 782,501 784,501 786,500.5 790,500.5 792,500.5 796,501 798,501 800,501 802,501.5 804,501.5 806,501.5 808,501.5 812,500.5 814,500 818,499.5 822,499.5 824,499.5 828,500 830,501 832,501 834,501 836,500.5 838,500.5 842,500.5 844,500.5 846,500 848,500 850,500 854,499.5 858,498.5 862,498.5 866,499.5 868,501 870,501.5 872,501.5 874,501.5 876,501.5 878,502 880,502 882,502 884,502 888,502 890,502 892,499.5 893,498.5 894,498.5 896,498.5 898,498.5 902,499 904,499 906,498.5 910,498.5 914,499 916,499 918,498.5 922,499.5 924,500 926,500 928,499.5 932,499 936,499 940,498.5 944,499 946,499 948,499 952,499 954,499 956,499 958,499 960,499 962,499 964,499 965,498.5 966,498.5 970,498.5 974,498.5 978,498 980,498 984,498 986,499 988,500.5 990,500.5 994,500.5 998,500.5 1000,500.5 1003,500.5 1005,500.5" fill="none" stroke="#9B8B2B" stroke-width="1"/>
<polyline points="20,502.5 22,502.5 24,502.5 28,502.5 32,502.5 34,502.5 36,502.5 38,502.5 40,502.5 42,502.5 44,502.5 48,502.5 50,502.5 54,502 58,502 60,502 64,502 66,502 68,502 70,502 74,502 76,502 78,502 80,502 84,501.5 86,501.5 90,501.5 92,501.5 94,501.5 98,501.5 100,501.5 102,501.5 106,501.5 108,501.5 110,501.5 114,502 116,502 118,502 122,502 124,502.5 126,502.5 128,502.5 130,502.5 132,503 134,503 138,503 140,503 144,503 148,503 150,503 152,503 156,503 160,503 162,503 164,503 168,503 170,503 172,503 176,503 178,502.5 182,502.5 184,502.5 186,502.5 190,502 194,502 196,502 198,501.5 200,501.5 202,501.5 206,501.5 208,501.5 212,501 214,501 216,501 218,501 220,501 224,501 228,501 230,501 234,501.5 236,501.5 238,502 240,502 242,502 244,501.5 248,502 252,502 254,501.5 258,501.5 260,501.5 262,501.5 266,501.5 270,501.5 274,501.5 278,501.5 280,501.5 284,501.5 288,501.5 292,501.5 294,501.5 296,501.5 298,501.5 302,501 304,501 308,501.5 312,501.5 314,501.5 316,501.5 318,501.5 320,501.5 322,501.5 324,502 326,502 328,502 330,502 332,502 336,502 340,502 344,501 348,500.5 350,500.5 352,500.5 354,500.5 356,500.5 360,500.5 362,500.5 366,500.5 368,500.5 370,500.5 374,501 376,501 380,501 384,501 388,501.5 392,501.5 394,501.5 396,502 400,501.5 402,502 406,502 408,502 412,501.5 416,501.5 418,501.5 420,501.5 424,502 428,502 430,502 432,502 434,502 436,502 440,502 444,502.5 448,502 452,502.5 454,502.5 456,502.5 460,502.5 462,502.5 464,502.5 466,502.5 468,502.5 470,502.5 472,502.5 474,502.5 478,502.5 482,503 484,503 488,503 490,503 492,503 494,503 496,503 500,503 504,503 506,503.5 508,503.5 510,503.5 512,503.5 514,503 518,503 522,503 524,503 526,503 528,503 530,502.5 532,502.5 536,502.5 538,502.5 540,502.5 544,502.5 546,502.5 548,502.5 552,502.5 556,502.5 560,502 562,502 566,502.5 568,502 572,502 575,501.5 576,501 580,501 582,501 586,500.5 588,500.5 592,500.5 594,500.5 598,500.5 602,500.5 604,500.5 608,500.5 612,501 614,501.5 616,501.5 617,502 618,502 620,502 622,502 624,502 626,502 628,502 632,502 636,502 640,502.5 642,502 646,502 650,501.5 652,501.5 654,501.5 658,502 660,502 664,502 666,502 670,501.5 672,501 674,500.5 678,500.5 680,500.5 682,500 684,500 686,500 690,499.5 692,499.5 696,499 698,499 702,499 706,499 708,499 712,499 714,499 718,499 720,499 724,499 726,499 730,499 734,499 736,499 738,499 742,499.5 744,499.5 746,499.5 748,500 750,500 754,500 756,499.5 758,499.5 760,499.5 762,499.5 766,499.5 768,500 770,500.5 774,501.5 778,501.5 782,501.5 786,501 790,501 794,501 796,501 800,501 804,501 806,501 810,501 812,500.5 816,500 820,500 822,500 826,500.5 830,501 832,501 834,501 836,501 838,501 842,501 844,501 846,501 850,501 852,500.5 854,500.5 856,500 860,500 864,500 866,501 870,502 872,502.5 874,502.5 876,502 880,502 882,502.5 884,502 888,502 892,500.5 893,499.5 896,499.5 898,499.5 900,499.5 902,499.5 904,499.5 906,499.5 908,499.5 910,499.5 914,499.5 916,499.5 918,499.5 920,499.5 924,500 926,500.5 928,500 930,500 934,500 936,499.5 940,499.5 942,499.5 946,499.5 948,499.5 952,500 954,500 956,500 958,499.5 960,499.5 962,499.5 964,499.5 965,499.5 966,499.5 970,500 974,500 976,500 980,499.5 984,500 988,501.5 990,501.5 992,501.5 994,501.5 996,501.5 998,501.5 1000,501.5 1003,501.5 1005,501.5" fill="none" stroke="#66DD00" stroke-width="1"/>
<polyline points="20,503.5 22,503.5 24,503.5 26,503.5 28,503.5 30,503.5 34,503.5 38,503.5 40,503.5 44,503.5 46,503.5 50,503.5 52,503.5 54,503.5 58,503.5 60,503.5 62,503.5 64,503.5 68,503.5 70,503.5 74,503 76,503 78,503 80,503 84,503 86,503 88,503 92,503.5 94,503.5 96,503.5 100,503.5 102,503 106,503.5 110,503.5 114,503.5 118,503.5 122,503.5 124,503.5 128,503.5 132,503.5 136,503.5 140,503.5 142,503.5 146,503.5 150,503.5 152,503.5 154,503.5 156,503.5 158,503.5 160,503.5 162,503.5 164,503.5 168,503 170,503 174,503 178,503 180,503 184,503 186,502.5 190,502.5 192,502.5 194,502 196,502 198,502 200,502 204,502 206,502 208,502 210,502 214,502 218,502 222,502 224,502 228,502 230,502.5 232,502.5 236,502.5 238,502.5 240,502.5 244,502.5 248,503 250,503 254,503 256,502.5 258,502.5 260,502.5 262,502.5 264,502.5 268,502.5 270,502.5 274,503 276,503 278,503 282,503 284,503 286,502.5 290,502.5 292,502.5 294,502.5 296,502.5 298,502.5 300,502 302,502 304,502 306,502 310,502 314,502 316,502 320,502 324,502 326,502 330,502 334,502 336,502 338,502.5 340,502.5 344,502 348,502 352,502 354,501.5 358,501.5 360,501.5 362,501.5 364,501 368,501 370,501 374,501.5 376,501.5 380,501.5 382,501.5 386,501.5 388,501.5 390,501.5 394,501.5 398,501.5 400,502 402,502 406,501.5 408,501.5 412,501.5 414,501.5 418,501.5 420,501.5 424,501.5 428,501.5 430,501.5 432,501.5 436,501.5 440,501.5 444,501.5 448,501.5 452,501.5 456,501.5 458,501.5 460,501.5 462,502 464,502 466,502 468,502 470,502 472,502.5 474,502.5 478,502.5 482,502.5 486,502.5 490,502.5 492,502.5 496,502.5 500,502.5 502,502.5 504,502.5 508,502.5 512,502.5 514,502 516,502 518,502.5 522,502 526,502 528,502 532,502 536,502.5 538,502.5 542,502.5 544,502.5 548,502.5 550,502.5 552,502.5 554,502 556,502 560,502 562,502 564,502 566,502 570,502 574,502 575,502 576,501.5 578,501.5 582,501.5 586,501.5 588,501.5 592,501.5 594,501.5 596,501.5 598,501.5 602,501.5 604,501.5 606,501.5 608,501.5 610,501.5 614,501.5 616,501.5 617,502 618,502 620,502 624,502 626,502 628,502 630,502 632,502 636,502.5 638,502.5 640,502.5 642,502.5 644,502 646,502 648,502 650,502 652,502 656,502 658,502 662,502 664,502 668,502 672,501.5 674,501.5 676,501.5 678,501 682,501 684,501 686,501 688,501 690,501 692,501 694,501 698,500.5 700,501 704,501 708,501 712,500.5 716,500.5 720,500.5 724,500.5 728,500.5 730,500.5 732,500.5 734,501 736,501 738,501 740,501 742,501 744,501 746,501 750,501 752,501 756,501 760,501 762,501 766,501 768,501 772,502 774,502 776,502 780,502 782,502 786,501.5 788,502 792,502 796,502 800,502 804,502 806,502 810,502 812,501.5 814,501 818,501 820,501 822,501 824,501 828,501.5 832,501.5 834,501.5 836,501.5 838,501.5 840,501.5 842,501.5 846,501.5 848,501.5 850,501.5 852,501 854,501 858,500.5 860,500.5 862,501 866,501 870,502 872,502 874,502 878,502 882,502 886,502 890,502 893,500.5 894,500.5 896,500.5 898,500.5 900,500.5 902,501 906,501 910,501 912,501 916,501 918,500.5 922,501 926,501 930,501 934,501 936,501 938,501 940,501 944,501 948,501 952,501 954,501 956,501 958,501 962,501 965,501 966,501 970,501 974,501 976,501 980,501 982,501 986,501.5 988,502 990,501.5 992,501.5 994,501.5 996,501.5 998,502 1000,502 1002,502 1003,502 1005,502" fill="none" stroke="#B090E0" stroke-width="1"/>
<polyline points="20,562.5 340,564.5 390,568 400,573 420,573.5 421,580 440,583 455,585 480,584.5 500,583 512,582.5 540,579.5 560,573.5 575,571.5 576,588.5 590,589.5 612,588.5 617,586.5 618,563 635,563 640,568 660,571.5 680,573.5 700,574.5 705,579.5 715,581.5 777,581.5 778,578 835,575.5 838,568 855,568 860,571.5 870,571.5 885,568.5 910,569 925,568 930,564.5 935,562.5 958,561.5 1003,560.5 1005,560.5" fill="none" stroke="#9B7B2B" stroke-width="1"/>
<polyline points="20,560 60,559.5 100,560 150,560.5 200,561 250,560 300,560 340,561 400,560.5 450,561 480,560.5 502,560.5 504,573 512,573 560,569.5 575,565.5 576,574.5 590,576.5 612,575.5 617,575.5 630,573.5 700,574.5 768,573.5 790,573 830,573 870,571 900,568.5 955,569.5 962,573.5 980,573.5 1003,575 1005,575" fill="none" stroke="#40A8F0" stroke-width="1"/>
<polyline points="20,565.5 57,565.5 58,566.5 95,566.5 96,565.5 128,566.5 130,569.5 160,570.5 200,568.5 256,565.5 290,568 340,565.5 380,566.5 430,566.5 512,565.5 575,563.5 576,584.5 616,585 617,559.5 700,560.5 768,558.5 830,561.5 834,556.5" fill="none" stroke="#CC30B0" stroke-width="1"/>
<polyline points="575,560.5 576,580.5 616,581 617,560.5" fill="none" stroke="#DDA0DD" stroke-width="1"/>
<polyline points="575,561.5 576,586.5 590,587.5 616,586.5 617,561.5" fill="none" stroke="#8B5A3A" stroke-width="1"/>
<polyline points="20,534 30,533 35,534 60,535 100,535 125,537 160,535.5 180,535 200,536 220,537 235,534.5 256,536 290,537.5 300,538.5 320,537.5 335,536 360,535 372,534.5 380,537 430,537 440,539 480,539.5 500,540 512,543 530,544.5 550,543 565,541 575,539.5 576,554 590,555 616,554.5 617,537.5 625,536 640,537.5 660,539 680,538 700,537.5 730,539 755,537.5 768,539.5 780,538 800,538 830,539 860,537.5 900,537 940,537.5 955,537 960,539 975,535 985,538 1003,539.5 1005,539.5" fill="none" stroke="#000" stroke-width="1"/>
<polyline points="20,500 28,500 31,497.5 38,497 41,500 44,500 46,493.5 55,493.5 58,498 62,496.5 68,496.5 72,500 85,500 90,490.5 102,490 108,494.5 116,496 120,500 127,498 131,490.5 140,490 146,499.5 168,499.5 171,496.5 177,496.5 180,499.5 186,499.5 189,493 196,491.5 198,488.5 207,488 215,485 222,483.5 230,485.5 238,490 243,490 256,491 265,490.5 270,492.5 280,492.5 290,496 300,496 305,490.5 315,490 325,495 335,497.5 342,498.5 345,487.5 355,485.5 363,483.5 375,486.5 385,487.5 388,496.5 393,496.5 398,490 410,488 420,491 435,492.5 450,491.5 458,497.5 470,497.5 475,496 488,496.5 495,499.5 512,498.5 530,497.5 550,498 560,495.5 568,498.5 575,492.5 585,490.5 610,492.5 618,498.5 640,500 668,500 672,496.5 690,494.5 710,493 740,493.5 766,493.5 770,496.5 775,500.5 785,498.5 810,498 815,494.5 825,494.5 830,497.5 850,496.5 858,493 865,493.5 870,499.5 890,500 893,491.5 900,492 920,494.5 925,497 940,494.5 960,495.5 985,494 988,496.5 989,483.5 992,481.5 1003,482 1005,482" fill="none" stroke="#000" stroke-width="1"/>
<polyline points="565,505.5 568,505.5 575,511.5 590,515 600,514.5 615,511.5 620,509.5" fill="none" stroke="#8B5A4A" stroke-width="1"/>
<polyline points="870,509.5 890,512.5 920,513.5 945,515 960,514.5 963,506.5 1003,506 1005,506" fill="none" stroke="#9B8B2B" stroke-width="1"/>
<polyline points="989,483.5 992,480.5 1003,479.5 1005,479.5" fill="none" stroke="#9B7B2B" stroke-width="1"/>
<rect x="20" y="500" width="985" height="1" fill="#40A8F0"/>
<rect x="20" y="478" width="985" height="1" fill="#000"/>
<rect x="20" y="484" width="985" height="1" fill="#000"/>
<rect x="20" y="499" width="985" height="1" fill="#000"/>
<rect x="20" y="555" width="985" height="1" fill="#000"/>
<rect x="20" y="562" width="985" height="1" fill="#000"/>
<rect x="20" y="577" width="985" height="1" fill="#000"/>
</g>
</svg>
</body></html>
